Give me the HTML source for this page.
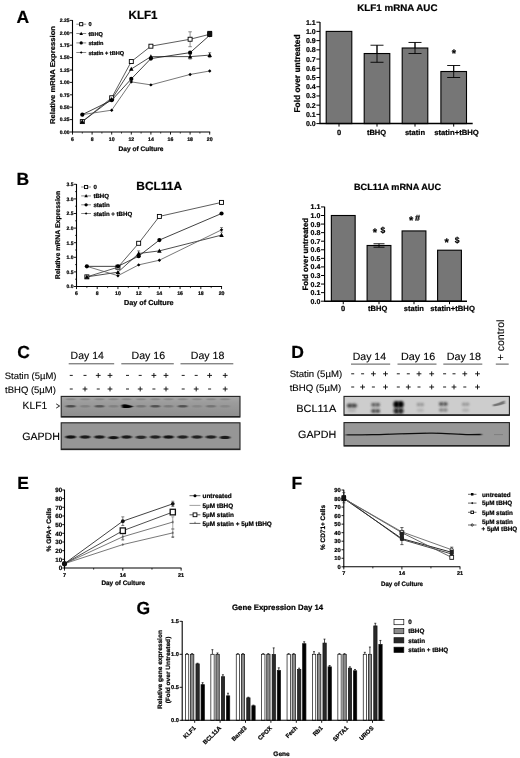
<!DOCTYPE html>
<html><head><meta charset="utf-8"><style>
html,body{margin:0;padding:0;background:#fff;}
body{width:520px;height:758px;overflow:hidden;}
svg{display:block;font-family:"Liberation Sans", sans-serif;will-change:transform;}
text{text-rendering:geometricPrecision;}
</style></head><body>
<svg width="520" height="758" viewBox="0 0 520 758">
<rect x="0" y="0" width="520" height="758" fill="#fff"/>
<text x="16.50" y="22.60" font-size="17.5" font-weight="bold" stroke="#000" stroke-width="0.22" text-anchor="start" fill="#000">A</text>
<text x="128.50" y="18.90" font-size="12" font-weight="bold" stroke="#000" stroke-width="0.22" text-anchor="start" textLength="29" lengthAdjust="spacingAndGlyphs" fill="#000">KLF1</text>
<line x1="72.50" y1="20.10" x2="72.50" y2="132.50" stroke="#000" stroke-width="1.1"/>
<line x1="72.00" y1="132.00" x2="210.20" y2="132.00" stroke="#000" stroke-width="1.1"/>
<line x1="69.90" y1="132.00" x2="72.50" y2="132.00" stroke="#000" stroke-width="0.9"/>
<text x="69.50" y="133.80" font-size="5" font-weight="bold" stroke="#000" stroke-width="0.22" text-anchor="end" fill="#000">0.00</text>
<line x1="69.90" y1="119.60" x2="72.50" y2="119.60" stroke="#000" stroke-width="0.9"/>
<text x="69.50" y="121.40" font-size="5" font-weight="bold" stroke="#000" stroke-width="0.22" text-anchor="end" fill="#000">0.25</text>
<line x1="69.90" y1="107.20" x2="72.50" y2="107.20" stroke="#000" stroke-width="0.9"/>
<text x="69.50" y="109.00" font-size="5" font-weight="bold" stroke="#000" stroke-width="0.22" text-anchor="end" fill="#000">0.50</text>
<line x1="69.90" y1="94.80" x2="72.50" y2="94.80" stroke="#000" stroke-width="0.9"/>
<text x="69.50" y="96.60" font-size="5" font-weight="bold" stroke="#000" stroke-width="0.22" text-anchor="end" fill="#000">0.75</text>
<line x1="69.90" y1="82.40" x2="72.50" y2="82.40" stroke="#000" stroke-width="0.9"/>
<text x="69.50" y="84.20" font-size="5" font-weight="bold" stroke="#000" stroke-width="0.22" text-anchor="end" fill="#000">1.00</text>
<line x1="69.90" y1="70.00" x2="72.50" y2="70.00" stroke="#000" stroke-width="0.9"/>
<text x="69.50" y="71.80" font-size="5" font-weight="bold" stroke="#000" stroke-width="0.22" text-anchor="end" fill="#000">1.25</text>
<line x1="69.90" y1="57.60" x2="72.50" y2="57.60" stroke="#000" stroke-width="0.9"/>
<text x="69.50" y="59.40" font-size="5" font-weight="bold" stroke="#000" stroke-width="0.22" text-anchor="end" fill="#000">1.50</text>
<line x1="69.90" y1="45.20" x2="72.50" y2="45.20" stroke="#000" stroke-width="0.9"/>
<text x="69.50" y="47.00" font-size="5" font-weight="bold" stroke="#000" stroke-width="0.22" text-anchor="end" fill="#000">1.75</text>
<line x1="69.90" y1="32.80" x2="72.50" y2="32.80" stroke="#000" stroke-width="0.9"/>
<text x="69.50" y="34.60" font-size="5" font-weight="bold" stroke="#000" stroke-width="0.22" text-anchor="end" fill="#000">2.00</text>
<line x1="69.90" y1="20.40" x2="72.50" y2="20.40" stroke="#000" stroke-width="0.9"/>
<text x="69.50" y="22.20" font-size="5" font-weight="bold" stroke="#000" stroke-width="0.22" text-anchor="end" fill="#000">2.25</text>
<line x1="72.50" y1="132.00" x2="72.50" y2="134.60" stroke="#000" stroke-width="0.9"/>
<text x="72.50" y="141.30" font-size="5.2" font-weight="bold" stroke="#000" stroke-width="0.22" text-anchor="middle" fill="#000">6</text>
<line x1="92.10" y1="132.00" x2="92.10" y2="134.60" stroke="#000" stroke-width="0.9"/>
<text x="92.10" y="141.30" font-size="5.2" font-weight="bold" stroke="#000" stroke-width="0.22" text-anchor="middle" fill="#000">8</text>
<line x1="111.70" y1="132.00" x2="111.70" y2="134.60" stroke="#000" stroke-width="0.9"/>
<text x="111.70" y="141.30" font-size="5.2" font-weight="bold" stroke="#000" stroke-width="0.22" text-anchor="middle" fill="#000">10</text>
<line x1="131.30" y1="132.00" x2="131.30" y2="134.60" stroke="#000" stroke-width="0.9"/>
<text x="131.30" y="141.30" font-size="5.2" font-weight="bold" stroke="#000" stroke-width="0.22" text-anchor="middle" fill="#000">12</text>
<line x1="150.90" y1="132.00" x2="150.90" y2="134.60" stroke="#000" stroke-width="0.9"/>
<text x="150.90" y="141.30" font-size="5.2" font-weight="bold" stroke="#000" stroke-width="0.22" text-anchor="middle" fill="#000">14</text>
<line x1="170.50" y1="132.00" x2="170.50" y2="134.60" stroke="#000" stroke-width="0.9"/>
<text x="170.50" y="141.30" font-size="5.2" font-weight="bold" stroke="#000" stroke-width="0.22" text-anchor="middle" fill="#000">16</text>
<line x1="190.10" y1="132.00" x2="190.10" y2="134.60" stroke="#000" stroke-width="0.9"/>
<text x="190.10" y="141.30" font-size="5.2" font-weight="bold" stroke="#000" stroke-width="0.22" text-anchor="middle" fill="#000">18</text>
<line x1="209.70" y1="132.00" x2="209.70" y2="134.60" stroke="#000" stroke-width="0.9"/>
<text x="209.70" y="141.30" font-size="5.2" font-weight="bold" stroke="#000" stroke-width="0.22" text-anchor="middle" fill="#000">20</text>
<line x1="82.30" y1="132.00" x2="82.30" y2="133.60" stroke="#000" stroke-width="0.7"/>
<line x1="101.90" y1="132.00" x2="101.90" y2="133.60" stroke="#000" stroke-width="0.7"/>
<line x1="121.50" y1="132.00" x2="121.50" y2="133.60" stroke="#000" stroke-width="0.7"/>
<line x1="141.10" y1="132.00" x2="141.10" y2="133.60" stroke="#000" stroke-width="0.7"/>
<line x1="160.70" y1="132.00" x2="160.70" y2="133.60" stroke="#000" stroke-width="0.7"/>
<line x1="180.30" y1="132.00" x2="180.30" y2="133.60" stroke="#000" stroke-width="0.7"/>
<line x1="199.90" y1="132.00" x2="199.90" y2="133.60" stroke="#000" stroke-width="0.7"/>
<text x="55.30" y="75.00" font-size="7" font-weight="bold" stroke="#000" stroke-width="0.22" text-anchor="middle" textLength="98" lengthAdjust="spacingAndGlyphs" transform="rotate(-90 55.3 75)" fill="#000">Relative mRNA Expression</text>
<text x="141.00" y="150.80" font-size="6.6" font-weight="bold" stroke="#000" stroke-width="0.22" text-anchor="middle" textLength="45" lengthAdjust="spacingAndGlyphs" fill="#000">Day of Culture</text>
<polyline points="82.30,121.58 111.70,97.78 131.30,61.57 150.90,46.19 190.10,39.25 209.70,34.29" fill="none" stroke="#333" stroke-width="0.8"/>
<polyline points="82.30,121.58 111.70,99.26 131.30,69.01 150.90,56.61 190.10,56.61 209.70,55.12" fill="none" stroke="#222" stroke-width="0.8"/>
<polyline points="82.30,114.64 111.70,100.26 131.30,78.93 150.90,58.59 190.10,52.64 209.70,35.28" fill="none" stroke="#111" stroke-width="0.8"/>
<polyline points="82.30,114.64 111.70,110.18 131.30,81.90 150.90,84.88 190.10,74.46 209.70,70.99" fill="none" stroke="#555" stroke-width="0.8"/>
<line x1="190.10" y1="31.81" x2="190.10" y2="46.69" stroke="#444" stroke-width="0.6"/>
<line x1="188.30" y1="31.81" x2="191.90" y2="31.81" stroke="#444" stroke-width="0.6"/>
<line x1="188.30" y1="46.69" x2="191.90" y2="46.69" stroke="#444" stroke-width="0.6"/>
<line x1="190.10" y1="54.13" x2="190.10" y2="59.09" stroke="#444" stroke-width="0.6"/>
<line x1="188.60" y1="54.13" x2="191.60" y2="54.13" stroke="#444" stroke-width="0.6"/>
<line x1="188.60" y1="59.09" x2="191.60" y2="59.09" stroke="#444" stroke-width="0.6"/>
<line x1="209.70" y1="52.64" x2="209.70" y2="57.60" stroke="#444" stroke-width="0.6"/>
<line x1="208.20" y1="52.64" x2="211.20" y2="52.64" stroke="#444" stroke-width="0.6"/>
<line x1="208.20" y1="57.60" x2="211.20" y2="57.60" stroke="#444" stroke-width="0.6"/>
<rect x="80.30" y="119.59" width="3.99" height="3.99" fill="#fff" stroke="#000" stroke-width="0.9"/>
<rect x="109.70" y="95.78" width="3.99" height="3.99" fill="#fff" stroke="#000" stroke-width="0.9"/>
<rect x="129.31" y="59.57" width="3.99" height="3.99" fill="#fff" stroke="#000" stroke-width="0.9"/>
<rect x="148.91" y="44.20" width="3.99" height="3.99" fill="#fff" stroke="#000" stroke-width="0.9"/>
<rect x="188.11" y="37.25" width="3.99" height="3.99" fill="#fff" stroke="#000" stroke-width="0.9"/>
<rect x="207.71" y="32.29" width="3.99" height="3.99" fill="#fff" stroke="#000" stroke-width="0.9"/>
<polygon points="82.30,119.30 84.58,123.41 80.02,123.41" fill="#000"/>
<polygon points="111.70,96.98 113.98,101.09 109.42,101.09" fill="#000"/>
<polygon points="131.30,66.73 133.58,70.83 129.02,70.83" fill="#000"/>
<polygon points="150.90,54.33 153.18,58.43 148.62,58.43" fill="#000"/>
<polygon points="190.10,54.33 192.38,58.43 187.82,58.43" fill="#000"/>
<polygon points="209.70,52.84 211.98,56.94 207.42,56.94" fill="#000"/>
<circle cx="82.30" cy="114.64" r="2.09" fill="#000"/>
<circle cx="111.70" cy="100.26" r="2.09" fill="#000"/>
<circle cx="131.30" cy="78.93" r="2.09" fill="#000"/>
<circle cx="150.90" cy="58.59" r="2.09" fill="#000"/>
<circle cx="190.10" cy="52.64" r="2.09" fill="#000"/>
<circle cx="209.70" cy="35.28" r="2.09" fill="#000"/>
<polygon points="82.30,112.93 84.01,114.64 82.30,116.35 80.59,114.64" fill="#000"/>
<polygon points="111.70,108.47 113.41,110.18 111.70,111.89 109.99,110.18" fill="#000"/>
<polygon points="131.30,80.19 133.01,81.90 131.30,83.61 129.59,81.90" fill="#000"/>
<polygon points="150.90,83.17 152.61,84.88 150.90,86.59 149.19,84.88" fill="#000"/>
<polygon points="190.10,72.75 191.81,74.46 190.10,76.17 188.39,74.46" fill="#000"/>
<polygon points="209.70,69.28 211.41,70.99 209.70,72.70 207.99,70.99" fill="#000"/>
<rect x="207.30" y="30.90" width="4.80" height="5.60" fill="#111"/>
<line x1="76.30" y1="24.20" x2="86.20" y2="24.20" stroke="#555" stroke-width="0.7"/>
<rect x="79.62" y="22.62" width="3.15" height="3.15" fill="#fff" stroke="#000" stroke-width="0.9"/>
<text x="88.50" y="26.20" font-size="5.6" font-weight="bold" stroke="#000" stroke-width="0.22" text-anchor="start" fill="#000">0</text>
<line x1="76.30" y1="33.50" x2="86.20" y2="33.50" stroke="#555" stroke-width="0.7"/>
<polygon points="81.20,31.70 83.00,34.94 79.40,34.94" fill="#000"/>
<text x="88.50" y="35.50" font-size="5.6" font-weight="bold" stroke="#000" stroke-width="0.22" text-anchor="start" fill="#000">tBHQ</text>
<line x1="76.30" y1="42.90" x2="86.20" y2="42.90" stroke="#555" stroke-width="0.7"/>
<circle cx="81.20" cy="42.90" r="1.65" fill="#000"/>
<text x="88.50" y="44.90" font-size="5.6" font-weight="bold" stroke="#000" stroke-width="0.22" text-anchor="start" fill="#000">statin</text>
<line x1="76.30" y1="52.50" x2="86.20" y2="52.50" stroke="#555" stroke-width="0.7"/>
<polygon points="81.20,51.15 82.55,52.50 81.20,53.85 79.85,52.50" fill="#000"/>
<text x="88.50" y="54.50" font-size="5.6" font-weight="bold" stroke="#000" stroke-width="0.22" text-anchor="start" fill="#000">statin + tBHQ</text>
<text x="357.30" y="10.60" font-size="9.5" font-weight="bold" stroke="#000" stroke-width="0.22" text-anchor="start" textLength="80.2" lengthAdjust="spacingAndGlyphs" fill="#000">KLF1 mRNA AUC</text>
<line x1="320.00" y1="21.88" x2="320.00" y2="123.60" stroke="#000" stroke-width="1.2"/>
<line x1="316.40" y1="123.60" x2="320.00" y2="123.60" stroke="#000" stroke-width="1.0"/>
<text x="315.70" y="126.10" font-size="7" font-weight="bold" stroke="#000" stroke-width="0.22" text-anchor="end" fill="#000">0.0</text>
<line x1="316.40" y1="114.38" x2="320.00" y2="114.38" stroke="#000" stroke-width="1.0"/>
<text x="315.70" y="116.88" font-size="7" font-weight="bold" stroke="#000" stroke-width="0.22" text-anchor="end" fill="#000">0.1</text>
<line x1="316.40" y1="105.16" x2="320.00" y2="105.16" stroke="#000" stroke-width="1.0"/>
<text x="315.70" y="107.66" font-size="7" font-weight="bold" stroke="#000" stroke-width="0.22" text-anchor="end" fill="#000">0.2</text>
<line x1="316.40" y1="95.94" x2="320.00" y2="95.94" stroke="#000" stroke-width="1.0"/>
<text x="315.70" y="98.44" font-size="7" font-weight="bold" stroke="#000" stroke-width="0.22" text-anchor="end" fill="#000">0.3</text>
<line x1="316.40" y1="86.72" x2="320.00" y2="86.72" stroke="#000" stroke-width="1.0"/>
<text x="315.70" y="89.22" font-size="7" font-weight="bold" stroke="#000" stroke-width="0.22" text-anchor="end" fill="#000">0.4</text>
<line x1="316.40" y1="77.50" x2="320.00" y2="77.50" stroke="#000" stroke-width="1.0"/>
<text x="315.70" y="80.00" font-size="7" font-weight="bold" stroke="#000" stroke-width="0.22" text-anchor="end" fill="#000">0.5</text>
<line x1="316.40" y1="68.28" x2="320.00" y2="68.28" stroke="#000" stroke-width="1.0"/>
<text x="315.70" y="70.78" font-size="7" font-weight="bold" stroke="#000" stroke-width="0.22" text-anchor="end" fill="#000">0.6</text>
<line x1="316.40" y1="59.06" x2="320.00" y2="59.06" stroke="#000" stroke-width="1.0"/>
<text x="315.70" y="61.56" font-size="7" font-weight="bold" stroke="#000" stroke-width="0.22" text-anchor="end" fill="#000">0.7</text>
<line x1="316.40" y1="49.84" x2="320.00" y2="49.84" stroke="#000" stroke-width="1.0"/>
<text x="315.70" y="52.34" font-size="7" font-weight="bold" stroke="#000" stroke-width="0.22" text-anchor="end" fill="#000">0.8</text>
<line x1="316.40" y1="40.62" x2="320.00" y2="40.62" stroke="#000" stroke-width="1.0"/>
<text x="315.70" y="43.12" font-size="7" font-weight="bold" stroke="#000" stroke-width="0.22" text-anchor="end" fill="#000">0.9</text>
<line x1="316.40" y1="31.40" x2="320.00" y2="31.40" stroke="#000" stroke-width="1.0"/>
<text x="315.70" y="33.90" font-size="7" font-weight="bold" stroke="#000" stroke-width="0.22" text-anchor="end" fill="#000">1.0</text>
<line x1="316.40" y1="22.18" x2="320.00" y2="22.18" stroke="#000" stroke-width="1.0"/>
<text x="315.70" y="24.68" font-size="7" font-weight="bold" stroke="#000" stroke-width="0.22" text-anchor="end" fill="#000">1.1</text>
<text x="299.50" y="73.50" font-size="8.4" font-weight="bold" stroke="#000" stroke-width="0.22" text-anchor="middle" textLength="78" lengthAdjust="spacingAndGlyphs" transform="rotate(-90 299.5 73.5)" fill="#000">Fold over untreated</text>
<rect x="326.20" y="31.40" width="25.60" height="92.20" fill="#767676" stroke="#000" stroke-width="1.1"/>
<line x1="377.00" y1="45.23" x2="377.00" y2="62.29" stroke="#000" stroke-width="0.9"/>
<line x1="370.50" y1="45.23" x2="383.50" y2="45.23" stroke="#000" stroke-width="0.9"/>
<line x1="370.50" y1="62.29" x2="383.50" y2="62.29" stroke="#000" stroke-width="0.9"/>
<rect x="364.20" y="53.53" width="25.60" height="70.07" fill="#767676" stroke="#000" stroke-width="1.1"/>
<line x1="377.00" y1="45.23" x2="377.00" y2="53.53" stroke="#000" stroke-width="0.9"/>
<line x1="377.00" y1="53.53" x2="377.00" y2="62.29" stroke="#000" stroke-width="0.9"/>
<line x1="370.50" y1="62.29" x2="383.50" y2="62.29" stroke="#000" stroke-width="0.9"/>
<line x1="415.00" y1="42.46" x2="415.00" y2="53.53" stroke="#000" stroke-width="0.9"/>
<line x1="408.50" y1="42.46" x2="421.50" y2="42.46" stroke="#000" stroke-width="0.9"/>
<line x1="408.50" y1="53.53" x2="421.50" y2="53.53" stroke="#000" stroke-width="0.9"/>
<rect x="402.20" y="48.00" width="25.60" height="75.60" fill="#767676" stroke="#000" stroke-width="1.1"/>
<line x1="415.00" y1="42.46" x2="415.00" y2="48.00" stroke="#000" stroke-width="0.9"/>
<line x1="415.00" y1="48.00" x2="415.00" y2="53.53" stroke="#000" stroke-width="0.9"/>
<line x1="408.50" y1="53.53" x2="421.50" y2="53.53" stroke="#000" stroke-width="0.9"/>
<line x1="453.70" y1="65.51" x2="453.70" y2="77.50" stroke="#000" stroke-width="0.9"/>
<line x1="447.20" y1="65.51" x2="460.20" y2="65.51" stroke="#000" stroke-width="0.9"/>
<line x1="447.20" y1="77.50" x2="460.20" y2="77.50" stroke="#000" stroke-width="0.9"/>
<rect x="440.90" y="71.51" width="25.60" height="52.09" fill="#767676" stroke="#000" stroke-width="1.1"/>
<line x1="453.70" y1="65.51" x2="453.70" y2="71.51" stroke="#000" stroke-width="0.9"/>
<line x1="453.70" y1="71.51" x2="453.70" y2="77.50" stroke="#000" stroke-width="0.9"/>
<line x1="447.20" y1="77.50" x2="460.20" y2="77.50" stroke="#000" stroke-width="0.9"/>
<line x1="319.50" y1="123.60" x2="472.70" y2="123.60" stroke="#000" stroke-width="1.5"/>
<line x1="339.00" y1="123.60" x2="339.00" y2="126.60" stroke="#000" stroke-width="1.0"/>
<line x1="377.00" y1="123.60" x2="377.00" y2="126.60" stroke="#000" stroke-width="1.0"/>
<line x1="415.00" y1="123.60" x2="415.00" y2="126.60" stroke="#000" stroke-width="1.0"/>
<line x1="453.70" y1="123.60" x2="453.70" y2="126.60" stroke="#000" stroke-width="1.0"/>
<text x="339.00" y="134.50" font-size="7.5" font-weight="bold" stroke="#000" stroke-width="0.22" text-anchor="middle" fill="#000">0</text>
<text x="376.50" y="134.50" font-size="7.5" font-weight="bold" stroke="#000" stroke-width="0.22" text-anchor="middle" fill="#000">tBHQ</text>
<text x="415.00" y="134.50" font-size="7.5" font-weight="bold" stroke="#000" stroke-width="0.22" text-anchor="middle" textLength="20.2" lengthAdjust="spacingAndGlyphs" fill="#000">statin</text>
<text x="456.50" y="134.50" font-size="7.5" font-weight="bold" stroke="#000" stroke-width="0.22" text-anchor="middle" textLength="44.6" lengthAdjust="spacingAndGlyphs" fill="#000">statin+tBHQ</text>
<text x="453.80" y="57.36" font-size="11" font-weight="bold" stroke="#000" stroke-width="0.22" text-anchor="middle" fill="#000">*</text>
<text x="16.50" y="184.60" font-size="17.5" font-weight="bold" stroke="#000" stroke-width="0.22" text-anchor="start" fill="#000">B</text>
<text x="136.30" y="190.20" font-size="12" font-weight="bold" stroke="#000" stroke-width="0.22" text-anchor="start" textLength="45.8" lengthAdjust="spacingAndGlyphs" fill="#000">BCL11A</text>
<line x1="76.50" y1="184.00" x2="76.50" y2="287.00" stroke="#000" stroke-width="1.1"/>
<line x1="76.00" y1="286.50" x2="222.04" y2="286.50" stroke="#000" stroke-width="1.1"/>
<line x1="73.90" y1="286.50" x2="76.50" y2="286.50" stroke="#000" stroke-width="0.9"/>
<text x="73.50" y="288.30" font-size="5" font-weight="bold" stroke="#000" stroke-width="0.22" text-anchor="end" fill="#000">0.0</text>
<line x1="73.90" y1="271.90" x2="76.50" y2="271.90" stroke="#000" stroke-width="0.9"/>
<text x="73.50" y="273.70" font-size="5" font-weight="bold" stroke="#000" stroke-width="0.22" text-anchor="end" fill="#000">0.5</text>
<line x1="73.90" y1="257.30" x2="76.50" y2="257.30" stroke="#000" stroke-width="0.9"/>
<text x="73.50" y="259.10" font-size="5" font-weight="bold" stroke="#000" stroke-width="0.22" text-anchor="end" fill="#000">1.0</text>
<line x1="73.90" y1="242.70" x2="76.50" y2="242.70" stroke="#000" stroke-width="0.9"/>
<text x="73.50" y="244.50" font-size="5" font-weight="bold" stroke="#000" stroke-width="0.22" text-anchor="end" fill="#000">1.5</text>
<line x1="73.90" y1="228.10" x2="76.50" y2="228.10" stroke="#000" stroke-width="0.9"/>
<text x="73.50" y="229.90" font-size="5" font-weight="bold" stroke="#000" stroke-width="0.22" text-anchor="end" fill="#000">2.0</text>
<line x1="73.90" y1="213.50" x2="76.50" y2="213.50" stroke="#000" stroke-width="0.9"/>
<text x="73.50" y="215.30" font-size="5" font-weight="bold" stroke="#000" stroke-width="0.22" text-anchor="end" fill="#000">2.5</text>
<line x1="73.90" y1="198.90" x2="76.50" y2="198.90" stroke="#000" stroke-width="0.9"/>
<text x="73.50" y="200.70" font-size="5" font-weight="bold" stroke="#000" stroke-width="0.22" text-anchor="end" fill="#000">3.0</text>
<line x1="73.90" y1="184.30" x2="76.50" y2="184.30" stroke="#000" stroke-width="0.9"/>
<text x="73.50" y="186.10" font-size="5" font-weight="bold" stroke="#000" stroke-width="0.22" text-anchor="end" fill="#000">3.5</text>
<line x1="75.00" y1="279.20" x2="76.50" y2="279.20" stroke="#000" stroke-width="0.7"/>
<line x1="75.00" y1="264.60" x2="76.50" y2="264.60" stroke="#000" stroke-width="0.7"/>
<line x1="75.00" y1="250.00" x2="76.50" y2="250.00" stroke="#000" stroke-width="0.7"/>
<line x1="75.00" y1="235.40" x2="76.50" y2="235.40" stroke="#000" stroke-width="0.7"/>
<line x1="75.00" y1="220.80" x2="76.50" y2="220.80" stroke="#000" stroke-width="0.7"/>
<line x1="75.00" y1="206.20" x2="76.50" y2="206.20" stroke="#000" stroke-width="0.7"/>
<line x1="75.00" y1="191.60" x2="76.50" y2="191.60" stroke="#000" stroke-width="0.7"/>
<line x1="76.50" y1="286.50" x2="76.50" y2="289.10" stroke="#000" stroke-width="0.9"/>
<text x="76.50" y="294.50" font-size="5.2" font-weight="bold" stroke="#000" stroke-width="0.22" text-anchor="middle" fill="#000">6</text>
<line x1="97.22" y1="286.50" x2="97.22" y2="289.10" stroke="#000" stroke-width="0.9"/>
<text x="97.22" y="294.50" font-size="5.2" font-weight="bold" stroke="#000" stroke-width="0.22" text-anchor="middle" fill="#000">8</text>
<line x1="117.94" y1="286.50" x2="117.94" y2="289.10" stroke="#000" stroke-width="0.9"/>
<text x="117.94" y="294.50" font-size="5.2" font-weight="bold" stroke="#000" stroke-width="0.22" text-anchor="middle" fill="#000">10</text>
<line x1="138.66" y1="286.50" x2="138.66" y2="289.10" stroke="#000" stroke-width="0.9"/>
<text x="138.66" y="294.50" font-size="5.2" font-weight="bold" stroke="#000" stroke-width="0.22" text-anchor="middle" fill="#000">12</text>
<line x1="159.38" y1="286.50" x2="159.38" y2="289.10" stroke="#000" stroke-width="0.9"/>
<text x="159.38" y="294.50" font-size="5.2" font-weight="bold" stroke="#000" stroke-width="0.22" text-anchor="middle" fill="#000">14</text>
<line x1="180.10" y1="286.50" x2="180.10" y2="289.10" stroke="#000" stroke-width="0.9"/>
<text x="180.10" y="294.50" font-size="5.2" font-weight="bold" stroke="#000" stroke-width="0.22" text-anchor="middle" fill="#000">16</text>
<line x1="200.82" y1="286.50" x2="200.82" y2="289.10" stroke="#000" stroke-width="0.9"/>
<text x="200.82" y="294.50" font-size="5.2" font-weight="bold" stroke="#000" stroke-width="0.22" text-anchor="middle" fill="#000">18</text>
<line x1="221.54" y1="286.50" x2="221.54" y2="289.10" stroke="#000" stroke-width="0.9"/>
<text x="221.54" y="294.50" font-size="5.2" font-weight="bold" stroke="#000" stroke-width="0.22" text-anchor="middle" fill="#000">20</text>
<line x1="86.86" y1="286.50" x2="86.86" y2="288.10" stroke="#000" stroke-width="0.7"/>
<line x1="107.58" y1="286.50" x2="107.58" y2="288.10" stroke="#000" stroke-width="0.7"/>
<line x1="128.30" y1="286.50" x2="128.30" y2="288.10" stroke="#000" stroke-width="0.7"/>
<line x1="149.02" y1="286.50" x2="149.02" y2="288.10" stroke="#000" stroke-width="0.7"/>
<line x1="169.74" y1="286.50" x2="169.74" y2="288.10" stroke="#000" stroke-width="0.7"/>
<line x1="190.46" y1="286.50" x2="190.46" y2="288.10" stroke="#000" stroke-width="0.7"/>
<line x1="211.18" y1="286.50" x2="211.18" y2="288.10" stroke="#000" stroke-width="0.7"/>
<text x="59.60" y="235.00" font-size="6.8" font-weight="bold" stroke="#000" stroke-width="0.22" text-anchor="middle" textLength="88.6" lengthAdjust="spacingAndGlyphs" transform="rotate(-90 59.6 235)" fill="#000">Relative mRNA Expression</text>
<text x="148.80" y="305.40" font-size="7.2" font-weight="bold" stroke="#000" stroke-width="0.22" text-anchor="middle" textLength="49.5" lengthAdjust="spacingAndGlyphs" fill="#000">Day of Culture</text>
<polyline points="86.86,276.86 117.94,267.23 138.66,243.28 159.38,216.42 221.54,202.40" fill="none" stroke="#333" stroke-width="0.8"/>
<polyline points="86.86,276.86 117.94,272.19 138.66,253.50 159.38,250.88 221.54,235.11" fill="none" stroke="#222" stroke-width="0.8"/>
<polyline points="86.86,266.35 117.94,266.35 138.66,256.13 159.38,240.07 221.54,213.50" fill="none" stroke="#111" stroke-width="0.8"/>
<polyline points="86.86,266.35 117.94,275.70 138.66,264.89 159.38,260.22 221.54,229.85" fill="none" stroke="#555" stroke-width="0.8"/>
<line x1="138.66" y1="250.88" x2="138.66" y2="256.13" stroke="#444" stroke-width="0.6"/>
<line x1="137.16" y1="250.88" x2="140.16" y2="250.88" stroke="#444" stroke-width="0.6"/>
<line x1="137.16" y1="256.13" x2="140.16" y2="256.13" stroke="#444" stroke-width="0.6"/>
<line x1="221.54" y1="227.52" x2="221.54" y2="232.19" stroke="#444" stroke-width="0.6"/>
<line x1="220.04" y1="227.52" x2="223.04" y2="227.52" stroke="#444" stroke-width="0.6"/>
<line x1="220.04" y1="232.19" x2="223.04" y2="232.19" stroke="#444" stroke-width="0.6"/>
<rect x="84.86" y="274.87" width="3.99" height="3.99" fill="#fff" stroke="#000" stroke-width="0.9"/>
<rect x="115.94" y="265.23" width="3.99" height="3.99" fill="#fff" stroke="#000" stroke-width="0.9"/>
<rect x="136.66" y="241.29" width="3.99" height="3.99" fill="#fff" stroke="#000" stroke-width="0.9"/>
<rect x="157.38" y="214.43" width="3.99" height="3.99" fill="#fff" stroke="#000" stroke-width="0.9"/>
<rect x="219.54" y="200.41" width="3.99" height="3.99" fill="#fff" stroke="#000" stroke-width="0.9"/>
<polygon points="86.86,274.58 89.14,278.69 84.58,278.69" fill="#000"/>
<polygon points="117.94,269.91 120.22,274.02 115.66,274.02" fill="#000"/>
<polygon points="138.66,251.22 140.94,255.33 136.38,255.33" fill="#000"/>
<polygon points="159.38,248.60 161.66,252.70 157.10,252.70" fill="#000"/>
<polygon points="221.54,232.83 223.82,236.93 219.26,236.93" fill="#000"/>
<circle cx="86.86" cy="266.35" r="2.09" fill="#000"/>
<circle cx="117.94" cy="266.35" r="2.09" fill="#000"/>
<circle cx="138.66" cy="256.13" r="2.09" fill="#000"/>
<circle cx="159.38" cy="240.07" r="2.09" fill="#000"/>
<circle cx="221.54" cy="213.50" r="2.09" fill="#000"/>
<polygon points="86.86,264.64 88.57,266.35 86.86,268.06 85.15,266.35" fill="#000"/>
<polygon points="117.94,273.99 119.65,275.70 117.94,277.41 116.23,275.70" fill="#000"/>
<polygon points="138.66,263.18 140.37,264.89 138.66,266.60 136.95,264.89" fill="#000"/>
<polygon points="159.38,258.51 161.09,260.22 159.38,261.93 157.67,260.22" fill="#000"/>
<polygon points="221.54,228.14 223.25,229.85 221.54,231.56 219.83,229.85" fill="#000"/>
<line x1="81.20" y1="187.00" x2="91.00" y2="187.00" stroke="#555" stroke-width="0.7"/>
<rect x="84.52" y="185.43" width="3.15" height="3.15" fill="#fff" stroke="#000" stroke-width="0.9"/>
<text x="93.40" y="189.20" font-size="6.1" font-weight="bold" stroke="#000" stroke-width="0.22" text-anchor="start" fill="#000">0</text>
<line x1="81.20" y1="195.90" x2="91.00" y2="195.90" stroke="#555" stroke-width="0.7"/>
<polygon points="86.10,194.10 87.90,197.34 84.30,197.34" fill="#000"/>
<text x="93.40" y="198.10" font-size="6.1" font-weight="bold" stroke="#000" stroke-width="0.22" text-anchor="start" fill="#000">tBHQ</text>
<line x1="81.20" y1="204.80" x2="91.00" y2="204.80" stroke="#555" stroke-width="0.7"/>
<circle cx="86.10" cy="204.80" r="1.65" fill="#000"/>
<text x="93.40" y="207.00" font-size="6.1" font-weight="bold" stroke="#000" stroke-width="0.22" text-anchor="start" fill="#000">statin</text>
<line x1="81.20" y1="213.50" x2="91.00" y2="213.50" stroke="#555" stroke-width="0.7"/>
<polygon points="86.10,212.15 87.45,213.50 86.10,214.85 84.75,213.50" fill="#000"/>
<text x="93.40" y="215.70" font-size="6.1" font-weight="bold" stroke="#000" stroke-width="0.22" text-anchor="start" fill="#000">statin + tBHQ</text>
<text x="354.00" y="190.00" font-size="9" font-weight="bold" stroke="#000" stroke-width="0.22" text-anchor="start" textLength="87" lengthAdjust="spacingAndGlyphs" fill="#000">BCL11A mRNA AUC</text>
<line x1="324.60" y1="206.63" x2="324.60" y2="301.20" stroke="#000" stroke-width="1.2"/>
<line x1="321.00" y1="301.20" x2="324.60" y2="301.20" stroke="#000" stroke-width="1.0"/>
<text x="320.30" y="303.70" font-size="7" font-weight="bold" stroke="#000" stroke-width="0.22" text-anchor="end" fill="#000">0.0</text>
<line x1="321.00" y1="292.63" x2="324.60" y2="292.63" stroke="#000" stroke-width="1.0"/>
<text x="320.30" y="295.13" font-size="7" font-weight="bold" stroke="#000" stroke-width="0.22" text-anchor="end" fill="#000">0.1</text>
<line x1="321.00" y1="284.06" x2="324.60" y2="284.06" stroke="#000" stroke-width="1.0"/>
<text x="320.30" y="286.56" font-size="7" font-weight="bold" stroke="#000" stroke-width="0.22" text-anchor="end" fill="#000">0.2</text>
<line x1="321.00" y1="275.49" x2="324.60" y2="275.49" stroke="#000" stroke-width="1.0"/>
<text x="320.30" y="277.99" font-size="7" font-weight="bold" stroke="#000" stroke-width="0.22" text-anchor="end" fill="#000">0.3</text>
<line x1="321.00" y1="266.92" x2="324.60" y2="266.92" stroke="#000" stroke-width="1.0"/>
<text x="320.30" y="269.42" font-size="7" font-weight="bold" stroke="#000" stroke-width="0.22" text-anchor="end" fill="#000">0.4</text>
<line x1="321.00" y1="258.35" x2="324.60" y2="258.35" stroke="#000" stroke-width="1.0"/>
<text x="320.30" y="260.85" font-size="7" font-weight="bold" stroke="#000" stroke-width="0.22" text-anchor="end" fill="#000">0.5</text>
<line x1="321.00" y1="249.78" x2="324.60" y2="249.78" stroke="#000" stroke-width="1.0"/>
<text x="320.30" y="252.28" font-size="7" font-weight="bold" stroke="#000" stroke-width="0.22" text-anchor="end" fill="#000">0.6</text>
<line x1="321.00" y1="241.21" x2="324.60" y2="241.21" stroke="#000" stroke-width="1.0"/>
<text x="320.30" y="243.71" font-size="7" font-weight="bold" stroke="#000" stroke-width="0.22" text-anchor="end" fill="#000">0.7</text>
<line x1="321.00" y1="232.64" x2="324.60" y2="232.64" stroke="#000" stroke-width="1.0"/>
<text x="320.30" y="235.14" font-size="7" font-weight="bold" stroke="#000" stroke-width="0.22" text-anchor="end" fill="#000">0.8</text>
<line x1="321.00" y1="224.07" x2="324.60" y2="224.07" stroke="#000" stroke-width="1.0"/>
<text x="320.30" y="226.57" font-size="7" font-weight="bold" stroke="#000" stroke-width="0.22" text-anchor="end" fill="#000">0.9</text>
<line x1="321.00" y1="215.50" x2="324.60" y2="215.50" stroke="#000" stroke-width="1.0"/>
<text x="320.30" y="218.00" font-size="7" font-weight="bold" stroke="#000" stroke-width="0.22" text-anchor="end" fill="#000">1.0</text>
<line x1="321.00" y1="206.93" x2="324.60" y2="206.93" stroke="#000" stroke-width="1.0"/>
<text x="320.30" y="209.43" font-size="7" font-weight="bold" stroke="#000" stroke-width="0.22" text-anchor="end" fill="#000">1.1</text>
<text x="308.10" y="254.30" font-size="7.8" font-weight="bold" stroke="#000" stroke-width="0.22" text-anchor="middle" textLength="72.5" lengthAdjust="spacingAndGlyphs" transform="rotate(-90 308.1 254.3)" fill="#000">Fold over untreated</text>
<rect x="331.35" y="215.50" width="23.80" height="85.70" fill="#767676" stroke="#000" stroke-width="1.1"/>
<rect x="367.10" y="245.49" width="23.80" height="55.71" fill="#767676" stroke="#000" stroke-width="1.1"/>
<line x1="379.00" y1="243.78" x2="379.00" y2="247.21" stroke="#000" stroke-width="0.9"/>
<line x1="373.50" y1="243.78" x2="384.50" y2="243.78" stroke="#000" stroke-width="0.9"/>
<line x1="373.50" y1="247.21" x2="384.50" y2="247.21" stroke="#000" stroke-width="0.9"/>
<rect x="402.10" y="230.93" width="23.80" height="70.27" fill="#767676" stroke="#000" stroke-width="1.1"/>
<rect x="437.60" y="250.21" width="23.80" height="50.99" fill="#767676" stroke="#000" stroke-width="1.1"/>
<line x1="324.10" y1="301.20" x2="467.00" y2="301.20" stroke="#000" stroke-width="1.5"/>
<line x1="343.25" y1="301.20" x2="343.25" y2="304.20" stroke="#000" stroke-width="1.0"/>
<line x1="379.00" y1="301.20" x2="379.00" y2="304.20" stroke="#000" stroke-width="1.0"/>
<line x1="414.00" y1="301.20" x2="414.00" y2="304.20" stroke="#000" stroke-width="1.0"/>
<line x1="449.50" y1="301.20" x2="449.50" y2="304.20" stroke="#000" stroke-width="1.0"/>
<text x="343.00" y="311.00" font-size="7.5" font-weight="bold" stroke="#000" stroke-width="0.22" text-anchor="middle" fill="#000">0</text>
<text x="377.70" y="311.00" font-size="7.5" font-weight="bold" stroke="#000" stroke-width="0.22" text-anchor="middle" fill="#000">tBHQ</text>
<text x="413.90" y="311.00" font-size="7.5" font-weight="bold" stroke="#000" stroke-width="0.22" text-anchor="middle" textLength="20.2" lengthAdjust="spacingAndGlyphs" fill="#000">statin</text>
<text x="452.60" y="311.00" font-size="7.5" font-weight="bold" stroke="#000" stroke-width="0.22" text-anchor="middle" textLength="44.6" lengthAdjust="spacingAndGlyphs" fill="#000">statin+tBHQ</text>
<text x="375.00" y="235.56" font-size="11" font-weight="bold" stroke="#000" stroke-width="0.22" text-anchor="middle" fill="#000">*</text>
<text x="382.90" y="232.66" font-size="8.5" font-weight="bold" stroke="#000" stroke-width="0.22" text-anchor="middle" fill="#000">$</text>
<text x="411.20" y="223.96" font-size="11" font-weight="bold" stroke="#000" stroke-width="0.22" text-anchor="middle" fill="#000">*</text>
<text x="417.50" y="220.84" font-size="9" font-weight="bold" stroke="#000" stroke-width="0.22" text-anchor="middle" fill="#000">#</text>
<text x="446.70" y="245.96" font-size="11" font-weight="bold" stroke="#000" stroke-width="0.22" text-anchor="middle" fill="#000">*</text>
<text x="457.00" y="242.66" font-size="8.5" font-weight="bold" stroke="#000" stroke-width="0.22" text-anchor="middle" fill="#000">$</text>
<text x="17.20" y="358.20" font-size="17.5" font-weight="bold" stroke="#000" stroke-width="0.22" text-anchor="start" fill="#000">C</text>
<text x="70.60" y="358.80" font-size="10.5" stroke="#000" stroke-width="0.12" text-anchor="start" textLength="33.2" lengthAdjust="spacingAndGlyphs" fill="#000">Day 14</text>
<text x="131.50" y="358.80" font-size="10.5" stroke="#000" stroke-width="0.12" text-anchor="start" textLength="33.69999999999999" lengthAdjust="spacingAndGlyphs" fill="#000">Day 16</text>
<text x="190.80" y="358.80" font-size="10.5" stroke="#000" stroke-width="0.12" text-anchor="start" textLength="33.599999999999994" lengthAdjust="spacingAndGlyphs" fill="#000">Day 18</text>
<line x1="68.70" y1="363.80" x2="114.20" y2="363.80" stroke="#555" stroke-width="1.0"/>
<line x1="121.30" y1="363.80" x2="173.80" y2="363.80" stroke="#555" stroke-width="1.0"/>
<line x1="180.50" y1="363.80" x2="233.30" y2="363.80" stroke="#555" stroke-width="1.0"/>
<text x="4.70" y="378.70" font-size="9.4" stroke="#000" stroke-width="0.12" text-anchor="start" textLength="51.8" lengthAdjust="spacingAndGlyphs" fill="#000">Statin (5µM)</text>
<text x="5.10" y="392.60" font-size="9.4" stroke="#000" stroke-width="0.12" text-anchor="start" textLength="50.8" lengthAdjust="spacingAndGlyphs" fill="#000">tBHQ (5µM)</text>
<line x1="69.75" y1="375.40" x2="72.75" y2="375.40" stroke="#111" stroke-width="0.95"/>
<line x1="69.75" y1="389.00" x2="72.75" y2="389.00" stroke="#111" stroke-width="0.95"/>
<line x1="83.50" y1="375.40" x2="86.50" y2="375.40" stroke="#111" stroke-width="0.95"/>
<line x1="82.60" y1="389.00" x2="87.40" y2="389.00" stroke="#111" stroke-width="0.95"/>
<line x1="85.00" y1="386.60" x2="85.00" y2="391.40" stroke="#111" stroke-width="0.95"/>
<line x1="95.85" y1="375.40" x2="100.65" y2="375.40" stroke="#111" stroke-width="0.95"/>
<line x1="98.25" y1="373.00" x2="98.25" y2="377.80" stroke="#111" stroke-width="0.95"/>
<line x1="96.75" y1="389.00" x2="99.75" y2="389.00" stroke="#111" stroke-width="0.95"/>
<line x1="107.60" y1="375.40" x2="112.40" y2="375.40" stroke="#111" stroke-width="0.95"/>
<line x1="110.00" y1="373.00" x2="110.00" y2="377.80" stroke="#111" stroke-width="0.95"/>
<line x1="107.60" y1="389.00" x2="112.40" y2="389.00" stroke="#111" stroke-width="0.95"/>
<line x1="110.00" y1="386.60" x2="110.00" y2="391.40" stroke="#111" stroke-width="0.95"/>
<line x1="126.00" y1="375.40" x2="129.00" y2="375.40" stroke="#111" stroke-width="0.95"/>
<line x1="126.00" y1="389.00" x2="129.00" y2="389.00" stroke="#111" stroke-width="0.95"/>
<line x1="138.70" y1="375.40" x2="141.70" y2="375.40" stroke="#111" stroke-width="0.95"/>
<line x1="137.80" y1="389.00" x2="142.60" y2="389.00" stroke="#111" stroke-width="0.95"/>
<line x1="140.20" y1="386.60" x2="140.20" y2="391.40" stroke="#111" stroke-width="0.95"/>
<line x1="151.50" y1="375.40" x2="156.30" y2="375.40" stroke="#111" stroke-width="0.95"/>
<line x1="153.90" y1="373.00" x2="153.90" y2="377.80" stroke="#111" stroke-width="0.95"/>
<line x1="152.40" y1="389.00" x2="155.40" y2="389.00" stroke="#111" stroke-width="0.95"/>
<line x1="163.60" y1="375.40" x2="168.40" y2="375.40" stroke="#111" stroke-width="0.95"/>
<line x1="166.00" y1="373.00" x2="166.00" y2="377.80" stroke="#111" stroke-width="0.95"/>
<line x1="163.60" y1="389.00" x2="168.40" y2="389.00" stroke="#111" stroke-width="0.95"/>
<line x1="166.00" y1="386.60" x2="166.00" y2="391.40" stroke="#111" stroke-width="0.95"/>
<line x1="181.70" y1="375.40" x2="184.70" y2="375.40" stroke="#111" stroke-width="0.95"/>
<line x1="181.70" y1="389.00" x2="184.70" y2="389.00" stroke="#111" stroke-width="0.95"/>
<line x1="194.70" y1="375.40" x2="197.70" y2="375.40" stroke="#111" stroke-width="0.95"/>
<line x1="193.80" y1="389.00" x2="198.60" y2="389.00" stroke="#111" stroke-width="0.95"/>
<line x1="196.20" y1="386.60" x2="196.20" y2="391.40" stroke="#111" stroke-width="0.95"/>
<line x1="207.20" y1="375.40" x2="212.00" y2="375.40" stroke="#111" stroke-width="0.95"/>
<line x1="209.60" y1="373.00" x2="209.60" y2="377.80" stroke="#111" stroke-width="0.95"/>
<line x1="208.10" y1="389.00" x2="211.10" y2="389.00" stroke="#111" stroke-width="0.95"/>
<line x1="222.80" y1="375.40" x2="227.60" y2="375.40" stroke="#111" stroke-width="0.95"/>
<line x1="225.20" y1="373.00" x2="225.20" y2="377.80" stroke="#111" stroke-width="0.95"/>
<line x1="222.80" y1="389.00" x2="227.60" y2="389.00" stroke="#111" stroke-width="0.95"/>
<line x1="225.20" y1="386.60" x2="225.20" y2="391.40" stroke="#111" stroke-width="0.95"/>
<text x="22.60" y="409.40" font-size="10.5" stroke="#000" stroke-width="0.12" text-anchor="start" textLength="24.5" lengthAdjust="spacingAndGlyphs" fill="#000">KLF1</text>
<polyline points="56.20,403.90 59.60,406.00 56.20,408.10" fill="none" stroke="#111" stroke-width="0.9"/>
<text x="22.20" y="440.20" font-size="10.5" stroke="#000" stroke-width="0.12" text-anchor="start" textLength="37.7" lengthAdjust="spacingAndGlyphs" fill="#000">GAPDH</text>
<defs><filter id="b1" x="-50%" y="-100%" width="200%" height="300%"><feGaussianBlur stdDeviation="0.9 0.6"/></filter><filter id="b2" x="-50%" y="-100%" width="200%" height="300%"><feGaussianBlur stdDeviation="1.2 0.9"/></filter><linearGradient id="gk" x1="0" y1="0" x2="0" y2="1"><stop offset="0" stop-color="#a8a8a8"/><stop offset="0.3" stop-color="#9c9c9c"/><stop offset="1" stop-color="#8e8e8e"/></linearGradient></defs>
<rect x="61.20" y="396.40" width="178.80" height="20.60" fill="url(#gk)" stroke="#222" stroke-width="1.1"/>
<line x1="61.20" y1="416.60" x2="240.00" y2="416.60" stroke="#222" stroke-width="1.4"/>
<ellipse cx="70.70" cy="399.2" rx="5" ry="1.0" fill="#666" opacity="0.4" filter="url(#b1)"/>
<ellipse cx="70.70" cy="406.2" rx="5" ry="1.3" fill="#222" opacity="0.65" filter="url(#b1)"/>
<ellipse cx="85.10" cy="399.2" rx="5" ry="1.0" fill="#666" opacity="0.4" filter="url(#b1)"/>
<ellipse cx="85.10" cy="406.2" rx="5" ry="1.3" fill="#222" opacity="0.20" filter="url(#b1)"/>
<ellipse cx="99.50" cy="399.2" rx="5" ry="1.0" fill="#666" opacity="0.4" filter="url(#b1)"/>
<ellipse cx="99.50" cy="406.2" rx="5" ry="1.3" fill="#222" opacity="0.55" filter="url(#b1)"/>
<ellipse cx="113.50" cy="399.2" rx="5" ry="1.0" fill="#666" opacity="0.4" filter="url(#b1)"/>
<ellipse cx="113.50" cy="406.2" rx="5" ry="1.3" fill="#222" opacity="0.20" filter="url(#b1)"/>
<ellipse cx="126.60" cy="399.2" rx="5" ry="1.0" fill="#666" opacity="0.4" filter="url(#b1)"/>
<path d="M121.40,405.6 Q122.60,403.6 126.60,404.4 L133.40,406.2 Q130.60,408.6 122.60,408.0 Z" fill="#000" filter="url(#b1)"/>
<ellipse cx="141.00" cy="399.2" rx="5" ry="1.0" fill="#666" opacity="0.4" filter="url(#b1)"/>
<ellipse cx="141.00" cy="406.2" rx="5" ry="1.3" fill="#222" opacity="0.30" filter="url(#b1)"/>
<ellipse cx="155.30" cy="399.2" rx="5" ry="1.0" fill="#666" opacity="0.4" filter="url(#b1)"/>
<ellipse cx="155.30" cy="406.2" rx="5" ry="1.3" fill="#222" opacity="0.60" filter="url(#b1)"/>
<ellipse cx="168.50" cy="399.2" rx="5" ry="1.0" fill="#666" opacity="0.4" filter="url(#b1)"/>
<ellipse cx="168.50" cy="406.2" rx="5" ry="1.3" fill="#222" opacity="0.25" filter="url(#b1)"/>
<ellipse cx="182.70" cy="399.2" rx="5" ry="1.0" fill="#666" opacity="0.4" filter="url(#b1)"/>
<ellipse cx="182.70" cy="406.2" rx="5" ry="1.3" fill="#222" opacity="0.60" filter="url(#b1)"/>
<ellipse cx="197.00" cy="399.2" rx="5" ry="1.0" fill="#666" opacity="0.4" filter="url(#b1)"/>
<ellipse cx="197.00" cy="406.2" rx="5" ry="1.3" fill="#222" opacity="0.15" filter="url(#b1)"/>
<ellipse cx="211.00" cy="399.2" rx="5" ry="1.0" fill="#666" opacity="0.4" filter="url(#b1)"/>
<ellipse cx="211.00" cy="406.2" rx="5" ry="1.3" fill="#222" opacity="0.30" filter="url(#b1)"/>
<ellipse cx="225.00" cy="399.2" rx="5" ry="1.0" fill="#666" opacity="0.4" filter="url(#b1)"/>
<ellipse cx="225.00" cy="406.2" rx="5" ry="1.3" fill="#222" opacity="0.15" filter="url(#b1)"/>
<rect x="61.20" y="422.80" width="178.80" height="26.80" fill="#969696" stroke="#222" stroke-width="1.1"/>
<line x1="61.20" y1="449.20" x2="240.00" y2="449.20" stroke="#222" stroke-width="1.3"/>
<ellipse cx="70.70" cy="437.00" rx="5.3" ry="1.7" fill="#111" opacity="0.95" filter="url(#b1)"/>
<ellipse cx="85.10" cy="437.00" rx="5.3" ry="1.7" fill="#111" opacity="0.90" filter="url(#b1)"/>
<ellipse cx="99.50" cy="437.00" rx="5.3" ry="1.7" fill="#111" opacity="0.90" filter="url(#b1)"/>
<ellipse cx="113.50" cy="437.60" rx="5.3" ry="1.7" fill="#111" opacity="0.95" filter="url(#b1)"/>
<ellipse cx="126.60" cy="437.00" rx="5.3" ry="1.7" fill="#111" opacity="0.90" filter="url(#b1)"/>
<ellipse cx="141.00" cy="437.30" rx="5.3" ry="1.7" fill="#111" opacity="0.80" filter="url(#b1)"/>
<ellipse cx="155.30" cy="437.00" rx="5.3" ry="1.7" fill="#111" opacity="0.85" filter="url(#b1)"/>
<ellipse cx="168.50" cy="437.00" rx="5.3" ry="1.7" fill="#111" opacity="0.95" filter="url(#b1)"/>
<ellipse cx="182.70" cy="437.00" rx="5.3" ry="1.7" fill="#111" opacity="0.85" filter="url(#b1)"/>
<ellipse cx="197.00" cy="437.00" rx="5.3" ry="1.7" fill="#111" opacity="0.85" filter="url(#b1)"/>
<ellipse cx="211.00" cy="437.00" rx="5.3" ry="1.7" fill="#111" opacity="0.85" filter="url(#b1)"/>
<ellipse cx="225.00" cy="437.40" rx="5.3" ry="1.7" fill="#111" opacity="0.90" filter="url(#b1)"/>
<text x="291.20" y="357.60" font-size="17.5" font-weight="bold" stroke="#000" stroke-width="0.22" text-anchor="start" fill="#000">D</text>
<text x="352.70" y="359.50" font-size="10.5" stroke="#000" stroke-width="0.12" text-anchor="start" textLength="33.400000000000034" lengthAdjust="spacingAndGlyphs" fill="#000">Day 14</text>
<text x="401.00" y="359.50" font-size="10.5" stroke="#000" stroke-width="0.12" text-anchor="start" textLength="34.19999999999999" lengthAdjust="spacingAndGlyphs" fill="#000">Day 16</text>
<text x="446.80" y="359.50" font-size="10.5" stroke="#000" stroke-width="0.12" text-anchor="start" textLength="34.19999999999999" lengthAdjust="spacingAndGlyphs" fill="#000">Day 18</text>
<line x1="351.00" y1="364.10" x2="390.20" y2="364.10" stroke="#555" stroke-width="1.0"/>
<line x1="397.50" y1="364.10" x2="436.50" y2="364.10" stroke="#555" stroke-width="1.0"/>
<line x1="443.30" y1="364.10" x2="482.30" y2="364.10" stroke="#555" stroke-width="1.0"/>
<line x1="495.80" y1="364.10" x2="508.70" y2="364.10" stroke="#555" stroke-width="1.0"/>
<text x="504.20" y="340.00" font-size="10.5" stroke="#000" stroke-width="0.12" text-anchor="middle" textLength="41" lengthAdjust="spacingAndGlyphs" transform="rotate(-90 504.2 340)" fill="#000">+ control</text>
<text x="289.70" y="377.00" font-size="9.4" stroke="#000" stroke-width="0.12" text-anchor="start" textLength="52.4" lengthAdjust="spacingAndGlyphs" fill="#000">Statin (5µM)</text>
<text x="289.70" y="390.80" font-size="9.4" stroke="#000" stroke-width="0.12" text-anchor="start" textLength="51.5" lengthAdjust="spacingAndGlyphs" fill="#000">tBHQ (5µM)</text>
<line x1="351.20" y1="373.80" x2="354.20" y2="373.80" stroke="#111" stroke-width="0.95"/>
<line x1="351.20" y1="387.00" x2="354.20" y2="387.00" stroke="#111" stroke-width="0.95"/>
<line x1="361.10" y1="373.80" x2="364.10" y2="373.80" stroke="#111" stroke-width="0.95"/>
<line x1="360.20" y1="387.00" x2="365.00" y2="387.00" stroke="#111" stroke-width="0.95"/>
<line x1="362.60" y1="384.60" x2="362.60" y2="389.40" stroke="#111" stroke-width="0.95"/>
<line x1="371.00" y1="373.80" x2="375.80" y2="373.80" stroke="#111" stroke-width="0.95"/>
<line x1="373.40" y1="371.40" x2="373.40" y2="376.20" stroke="#111" stroke-width="0.95"/>
<line x1="371.90" y1="387.00" x2="374.90" y2="387.00" stroke="#111" stroke-width="0.95"/>
<line x1="383.10" y1="373.80" x2="387.90" y2="373.80" stroke="#111" stroke-width="0.95"/>
<line x1="385.50" y1="371.40" x2="385.50" y2="376.20" stroke="#111" stroke-width="0.95"/>
<line x1="383.10" y1="387.00" x2="387.90" y2="387.00" stroke="#111" stroke-width="0.95"/>
<line x1="385.50" y1="384.60" x2="385.50" y2="389.40" stroke="#111" stroke-width="0.95"/>
<line x1="396.80" y1="373.80" x2="399.80" y2="373.80" stroke="#111" stroke-width="0.95"/>
<line x1="396.80" y1="387.00" x2="399.80" y2="387.00" stroke="#111" stroke-width="0.95"/>
<line x1="406.80" y1="373.80" x2="409.80" y2="373.80" stroke="#111" stroke-width="0.95"/>
<line x1="405.90" y1="387.00" x2="410.70" y2="387.00" stroke="#111" stroke-width="0.95"/>
<line x1="408.30" y1="384.60" x2="408.30" y2="389.40" stroke="#111" stroke-width="0.95"/>
<line x1="416.60" y1="373.80" x2="421.40" y2="373.80" stroke="#111" stroke-width="0.95"/>
<line x1="419.00" y1="371.40" x2="419.00" y2="376.20" stroke="#111" stroke-width="0.95"/>
<line x1="417.50" y1="387.00" x2="420.50" y2="387.00" stroke="#111" stroke-width="0.95"/>
<line x1="429.30" y1="373.80" x2="434.10" y2="373.80" stroke="#111" stroke-width="0.95"/>
<line x1="431.70" y1="371.40" x2="431.70" y2="376.20" stroke="#111" stroke-width="0.95"/>
<line x1="429.30" y1="387.00" x2="434.10" y2="387.00" stroke="#111" stroke-width="0.95"/>
<line x1="431.70" y1="384.60" x2="431.70" y2="389.40" stroke="#111" stroke-width="0.95"/>
<line x1="443.10" y1="373.80" x2="446.10" y2="373.80" stroke="#111" stroke-width="0.95"/>
<line x1="443.10" y1="387.00" x2="446.10" y2="387.00" stroke="#111" stroke-width="0.95"/>
<line x1="452.50" y1="373.80" x2="455.50" y2="373.80" stroke="#111" stroke-width="0.95"/>
<line x1="451.60" y1="387.00" x2="456.40" y2="387.00" stroke="#111" stroke-width="0.95"/>
<line x1="454.00" y1="384.60" x2="454.00" y2="389.40" stroke="#111" stroke-width="0.95"/>
<line x1="462.40" y1="373.80" x2="467.20" y2="373.80" stroke="#111" stroke-width="0.95"/>
<line x1="464.80" y1="371.40" x2="464.80" y2="376.20" stroke="#111" stroke-width="0.95"/>
<line x1="463.30" y1="387.00" x2="466.30" y2="387.00" stroke="#111" stroke-width="0.95"/>
<line x1="475.10" y1="373.80" x2="479.90" y2="373.80" stroke="#111" stroke-width="0.95"/>
<line x1="477.50" y1="371.40" x2="477.50" y2="376.20" stroke="#111" stroke-width="0.95"/>
<line x1="475.10" y1="387.00" x2="479.90" y2="387.00" stroke="#111" stroke-width="0.95"/>
<line x1="477.50" y1="384.60" x2="477.50" y2="389.40" stroke="#111" stroke-width="0.95"/>
<text x="296.25" y="411.60" font-size="10.5" stroke="#000" stroke-width="0.12" text-anchor="start" textLength="40" lengthAdjust="spacingAndGlyphs" fill="#000">BCL11A</text>
<text x="298.10" y="437.50" font-size="10.5" stroke="#000" stroke-width="0.12" text-anchor="start" textLength="38.1" lengthAdjust="spacingAndGlyphs" fill="#000">GAPDH</text>
<rect x="344.00" y="396.40" width="165.40" height="18.90" fill="#cdcdcd" stroke="#222" stroke-width="1.1"/>
<line x1="344.00" y1="415.00" x2="509.40" y2="415.00" stroke="#222" stroke-width="1.3"/>
<ellipse cx="349.60" cy="405.60" rx="2.8" ry="2.2" fill="#333" opacity="0.85" filter="url(#b2)"/>
<ellipse cx="354.20" cy="405.60" rx="2.8" ry="2.2" fill="#333" opacity="0.85" filter="url(#b2)"/>
<ellipse cx="351.80" cy="410.60" rx="4.3" ry="1.5" fill="#888" opacity="0.45" filter="url(#b2)"/>
<ellipse cx="373.50" cy="404.80" rx="2.4" ry="2.0" fill="#444" opacity="0.8" filter="url(#b2)"/>
<ellipse cx="377.70" cy="404.80" rx="2.4" ry="2.0" fill="#444" opacity="0.8" filter="url(#b2)"/>
<ellipse cx="373.50" cy="411.00" rx="2.4" ry="2.0" fill="#333" opacity="0.85" filter="url(#b2)"/>
<ellipse cx="377.70" cy="411.00" rx="2.4" ry="2.0" fill="#333" opacity="0.85" filter="url(#b2)"/>
<ellipse cx="396.30" cy="404.40" rx="2.9" ry="3.3" fill="#000" opacity="1.0" filter="url(#b2)"/>
<ellipse cx="400.80" cy="404.40" rx="2.9" ry="3.3" fill="#000" opacity="1.0" filter="url(#b2)"/>
<ellipse cx="396.30" cy="410.90" rx="2.7" ry="2.8" fill="#1a1a1a" opacity="0.95" filter="url(#b2)"/>
<ellipse cx="400.80" cy="410.90" rx="2.7" ry="2.8" fill="#1a1a1a" opacity="0.95" filter="url(#b2)"/>
<ellipse cx="418.50" cy="404.60" rx="1.9" ry="1.8" fill="#666" opacity="0.55" filter="url(#b2)"/>
<ellipse cx="422.10" cy="404.60" rx="1.9" ry="1.8" fill="#666" opacity="0.55" filter="url(#b2)"/>
<ellipse cx="420.30" cy="410.30" rx="3.6" ry="1.5" fill="#888" opacity="0.4" filter="url(#b2)"/>
<ellipse cx="441.20" cy="404.00" rx="2.3" ry="2.0" fill="#333" opacity="0.8" filter="url(#b2)"/>
<ellipse cx="445.40" cy="404.00" rx="2.3" ry="2.0" fill="#333" opacity="0.8" filter="url(#b2)"/>
<ellipse cx="441.20" cy="410.00" rx="2.3" ry="1.8" fill="#555" opacity="0.65" filter="url(#b2)"/>
<ellipse cx="445.40" cy="410.00" rx="2.3" ry="1.8" fill="#555" opacity="0.65" filter="url(#b2)"/>
<ellipse cx="463.80" cy="404.20" rx="1.9" ry="1.8" fill="#666" opacity="0.55" filter="url(#b2)"/>
<ellipse cx="467.40" cy="404.20" rx="1.9" ry="1.8" fill="#666" opacity="0.55" filter="url(#b2)"/>
<ellipse cx="465.60" cy="410.20" rx="3.6" ry="1.6" fill="#888" opacity="0.45" filter="url(#b2)"/>
<path d="M493.0,404.6 Q499,403.0 504.8,400.2 L504.8,403.8 Q499,405.8 493.0,406.4 Z" fill="#555" opacity="0.75" filter="url(#b1)"/>
<rect x="344.00" y="422.60" width="165.40" height="23.40" fill="#979797" stroke="#222" stroke-width="1.1"/>
<line x1="344.00" y1="445.70" x2="509.40" y2="445.70" stroke="#222" stroke-width="1.3"/>
<path d="M346,434.9 C360,435.2 370,434.6 385,434.3 C400,434.0 410,433.6 430,433.2 C445,433.0 455,434.4 470,434.6 L481.5,434.5" fill="none" stroke="#111" stroke-width="1.3" filter="url(#b1)"/>
<line x1="494.00" y1="434.60" x2="503.00" y2="434.60" stroke="#777" stroke-width="0.8"/>
<text x="17.20" y="488.70" font-size="17.5" font-weight="bold" stroke="#000" stroke-width="0.22" text-anchor="start" fill="#000">E</text>
<line x1="64.50" y1="489.67" x2="64.50" y2="568.50" stroke="#000" stroke-width="1.1"/>
<line x1="64.00" y1="568.00" x2="181.42" y2="568.00" stroke="#000" stroke-width="1.1"/>
<line x1="62.20" y1="568.00" x2="64.50" y2="568.00" stroke="#000" stroke-width="0.9"/>
<text x="62.20" y="570.20" font-size="6.2" font-weight="bold" stroke="#000" stroke-width="0.22" text-anchor="end" fill="#000">0</text>
<line x1="62.20" y1="559.33" x2="64.50" y2="559.33" stroke="#000" stroke-width="0.9"/>
<text x="62.20" y="561.53" font-size="6.2" font-weight="bold" stroke="#000" stroke-width="0.22" text-anchor="end" fill="#000">10</text>
<line x1="62.20" y1="550.66" x2="64.50" y2="550.66" stroke="#000" stroke-width="0.9"/>
<text x="62.20" y="552.86" font-size="6.2" font-weight="bold" stroke="#000" stroke-width="0.22" text-anchor="end" fill="#000">20</text>
<line x1="62.20" y1="541.99" x2="64.50" y2="541.99" stroke="#000" stroke-width="0.9"/>
<text x="62.20" y="544.19" font-size="6.2" font-weight="bold" stroke="#000" stroke-width="0.22" text-anchor="end" fill="#000">30</text>
<line x1="62.20" y1="533.32" x2="64.50" y2="533.32" stroke="#000" stroke-width="0.9"/>
<text x="62.20" y="535.52" font-size="6.2" font-weight="bold" stroke="#000" stroke-width="0.22" text-anchor="end" fill="#000">40</text>
<line x1="62.20" y1="524.65" x2="64.50" y2="524.65" stroke="#000" stroke-width="0.9"/>
<text x="62.20" y="526.85" font-size="6.2" font-weight="bold" stroke="#000" stroke-width="0.22" text-anchor="end" fill="#000">50</text>
<line x1="62.20" y1="515.98" x2="64.50" y2="515.98" stroke="#000" stroke-width="0.9"/>
<text x="62.20" y="518.18" font-size="6.2" font-weight="bold" stroke="#000" stroke-width="0.22" text-anchor="end" fill="#000">60</text>
<line x1="62.20" y1="507.31" x2="64.50" y2="507.31" stroke="#000" stroke-width="0.9"/>
<text x="62.20" y="509.51" font-size="6.2" font-weight="bold" stroke="#000" stroke-width="0.22" text-anchor="end" fill="#000">70</text>
<line x1="62.20" y1="498.64" x2="64.50" y2="498.64" stroke="#000" stroke-width="0.9"/>
<text x="62.20" y="500.84" font-size="6.2" font-weight="bold" stroke="#000" stroke-width="0.22" text-anchor="end" fill="#000">80</text>
<line x1="62.20" y1="489.97" x2="64.50" y2="489.97" stroke="#000" stroke-width="0.9"/>
<text x="62.20" y="492.17" font-size="6.2" font-weight="bold" stroke="#000" stroke-width="0.22" text-anchor="end" fill="#000">90</text>
<line x1="64.50" y1="568.00" x2="64.50" y2="570.60" stroke="#000" stroke-width="0.9"/>
<text x="64.50" y="576.50" font-size="5.5" font-weight="bold" stroke="#000" stroke-width="0.22" text-anchor="middle" fill="#000">7</text>
<line x1="122.81" y1="568.00" x2="122.81" y2="570.60" stroke="#000" stroke-width="0.9"/>
<text x="122.81" y="576.50" font-size="5.5" font-weight="bold" stroke="#000" stroke-width="0.22" text-anchor="middle" fill="#000">14</text>
<line x1="181.12" y1="568.00" x2="181.12" y2="570.60" stroke="#000" stroke-width="0.9"/>
<text x="181.12" y="576.50" font-size="5.5" font-weight="bold" stroke="#000" stroke-width="0.22" text-anchor="middle" fill="#000">21</text>
<line x1="93.66" y1="568.00" x2="93.66" y2="569.60" stroke="#000" stroke-width="0.8"/>
<line x1="151.97" y1="568.00" x2="151.97" y2="569.60" stroke="#000" stroke-width="0.8"/>
<text x="51.20" y="529.60" font-size="6.5" font-weight="bold" stroke="#000" stroke-width="0.22" text-anchor="middle" textLength="43.9" lengthAdjust="spacingAndGlyphs" transform="rotate(-90 51.2 529.6)" fill="#000">% GPA+ Cells</text>
<text x="123.30" y="585.20" font-size="6.4" font-weight="bold" stroke="#000" stroke-width="0.22" text-anchor="middle" textLength="43.7" lengthAdjust="spacingAndGlyphs" fill="#000">Day of Culture</text>
<polyline points="64.50,563.66 122.81,521.18 172.79,503.84" fill="none" stroke="#111" stroke-width="0.8"/>
<polyline points="64.50,563.66 122.81,536.79 172.79,522.05" fill="none" stroke="#555" stroke-width="0.8"/>
<polyline points="64.50,563.66 122.81,530.72 172.79,512.08" fill="none" stroke="#222" stroke-width="0.8"/>
<polyline points="64.50,563.66 122.81,544.59 172.79,532.89" fill="none" stroke="#555" stroke-width="0.8"/>
<line x1="122.81" y1="516.85" x2="122.81" y2="525.52" stroke="#333" stroke-width="0.6"/>
<line x1="121.31" y1="516.85" x2="124.31" y2="516.85" stroke="#333" stroke-width="0.6"/>
<line x1="121.31" y1="525.52" x2="124.31" y2="525.52" stroke="#333" stroke-width="0.6"/>
<line x1="172.79" y1="501.24" x2="172.79" y2="506.44" stroke="#333" stroke-width="0.6"/>
<line x1="171.29" y1="501.24" x2="174.29" y2="501.24" stroke="#333" stroke-width="0.6"/>
<line x1="171.29" y1="506.44" x2="174.29" y2="506.44" stroke="#333" stroke-width="0.6"/>
<line x1="172.79" y1="509.91" x2="172.79" y2="514.25" stroke="#333" stroke-width="0.6"/>
<line x1="171.29" y1="509.91" x2="174.29" y2="509.91" stroke="#333" stroke-width="0.6"/>
<line x1="171.29" y1="514.25" x2="174.29" y2="514.25" stroke="#333" stroke-width="0.6"/>
<line x1="172.79" y1="516.85" x2="172.79" y2="528.99" stroke="#666" stroke-width="0.6"/>
<line x1="171.29" y1="516.85" x2="174.29" y2="516.85" stroke="#666" stroke-width="0.6"/>
<line x1="171.29" y1="528.99" x2="174.29" y2="528.99" stroke="#666" stroke-width="0.6"/>
<line x1="172.79" y1="528.99" x2="172.79" y2="536.79" stroke="#666" stroke-width="0.6"/>
<line x1="171.29" y1="528.99" x2="174.29" y2="528.99" stroke="#666" stroke-width="0.6"/>
<line x1="171.29" y1="536.79" x2="174.29" y2="536.79" stroke="#666" stroke-width="0.6"/>
<line x1="122.81" y1="533.32" x2="122.81" y2="539.39" stroke="#666" stroke-width="0.6"/>
<line x1="121.31" y1="533.32" x2="124.31" y2="533.32" stroke="#666" stroke-width="0.6"/>
<line x1="121.31" y1="539.39" x2="124.31" y2="539.39" stroke="#666" stroke-width="0.6"/>
<polygon points="122.81,537.95 124.25,540.54 121.37,540.54" fill="#777"/>
<polygon points="172.79,535.35 174.23,537.94 171.35,537.94" fill="#777"/>
<circle cx="64.50" cy="563.66" r="2.6" fill="#111"/>
<circle cx="122.81" cy="521.18" r="1.87" fill="#111"/>
<circle cx="172.79" cy="503.84" r="1.87" fill="#111"/>
<line x1="122.81" y1="535.39" x2="122.81" y2="538.19" stroke="#555" stroke-width="0.7"/>
<line x1="121.76" y1="536.79" x2="123.86" y2="536.79" stroke="#555" stroke-width="0.7"/>
<line x1="172.79" y1="520.65" x2="172.79" y2="523.45" stroke="#555" stroke-width="0.7"/>
<line x1="171.74" y1="522.05" x2="173.84" y2="522.05" stroke="#555" stroke-width="0.7"/>
<rect x="120.21" y="527.92" width="5.20" height="5.60" fill="#fff" stroke="#111" stroke-width="1.3"/>
<rect x="170.19" y="509.28" width="5.20" height="5.60" fill="#fff" stroke="#111" stroke-width="1.3"/>
<line x1="122.81" y1="543.19" x2="122.81" y2="545.99" stroke="#555" stroke-width="0.7"/>
<line x1="121.76" y1="544.59" x2="123.86" y2="544.59" stroke="#555" stroke-width="0.7"/>
<line x1="172.79" y1="531.49" x2="172.79" y2="534.29" stroke="#555" stroke-width="0.7"/>
<line x1="171.74" y1="532.89" x2="173.84" y2="532.89" stroke="#555" stroke-width="0.7"/>
<line x1="189.50" y1="495.70" x2="200.40" y2="495.70" stroke="#333" stroke-width="0.8"/>
<circle cx="195.00" cy="495.70" r="1.54" fill="#000"/>
<text x="202.50" y="497.90" font-size="6.4" font-weight="bold" stroke="#000" stroke-width="0.22" text-anchor="start" fill="#000">untreated</text>
<line x1="189.50" y1="505.40" x2="200.40" y2="505.40" stroke="#888" stroke-width="0.8"/>
<text x="202.50" y="507.60" font-size="6.4" font-weight="bold" stroke="#000" stroke-width="0.22" text-anchor="start" fill="#000">5µM tBHQ</text>
<line x1="189.50" y1="514.80" x2="200.40" y2="514.80" stroke="#333" stroke-width="0.8"/>
<rect x="193.11" y="512.91" width="3.78" height="3.78" fill="#fff" stroke="#000" stroke-width="0.9"/>
<text x="202.50" y="517.00" font-size="6.4" font-weight="bold" stroke="#000" stroke-width="0.22" text-anchor="start" fill="#000">5µM statin</text>
<line x1="189.50" y1="523.40" x2="200.40" y2="523.40" stroke="#333" stroke-width="0.8"/>
<line x1="195.00" y1="521.80" x2="195.00" y2="523.40" stroke="#333" stroke-width="0.7"/>
<text x="202.50" y="525.60" font-size="6.4" font-weight="bold" stroke="#000" stroke-width="0.22" text-anchor="start" fill="#000">5µM statin + 5µM tBHQ</text>
<text x="291.50" y="488.70" font-size="17.5" font-weight="bold" stroke="#000" stroke-width="0.22" text-anchor="start" fill="#000">F</text>
<line x1="343.80" y1="489.73" x2="343.80" y2="567.30" stroke="#000" stroke-width="1.1"/>
<line x1="343.30" y1="566.80" x2="460.30" y2="566.80" stroke="#000" stroke-width="1.1"/>
<line x1="341.50" y1="566.80" x2="343.80" y2="566.80" stroke="#000" stroke-width="0.9"/>
<text x="340.70" y="568.90" font-size="5.8" font-weight="bold" stroke="#000" stroke-width="0.22" text-anchor="end" fill="#000">0</text>
<line x1="341.50" y1="558.27" x2="343.80" y2="558.27" stroke="#000" stroke-width="0.9"/>
<text x="340.70" y="560.37" font-size="5.8" font-weight="bold" stroke="#000" stroke-width="0.22" text-anchor="end" fill="#000">10</text>
<line x1="341.50" y1="549.74" x2="343.80" y2="549.74" stroke="#000" stroke-width="0.9"/>
<text x="340.70" y="551.84" font-size="5.8" font-weight="bold" stroke="#000" stroke-width="0.22" text-anchor="end" fill="#000">20</text>
<line x1="341.50" y1="541.21" x2="343.80" y2="541.21" stroke="#000" stroke-width="0.9"/>
<text x="340.70" y="543.31" font-size="5.8" font-weight="bold" stroke="#000" stroke-width="0.22" text-anchor="end" fill="#000">30</text>
<line x1="341.50" y1="532.68" x2="343.80" y2="532.68" stroke="#000" stroke-width="0.9"/>
<text x="340.70" y="534.78" font-size="5.8" font-weight="bold" stroke="#000" stroke-width="0.22" text-anchor="end" fill="#000">40</text>
<line x1="341.50" y1="524.15" x2="343.80" y2="524.15" stroke="#000" stroke-width="0.9"/>
<text x="340.70" y="526.25" font-size="5.8" font-weight="bold" stroke="#000" stroke-width="0.22" text-anchor="end" fill="#000">50</text>
<line x1="341.50" y1="515.62" x2="343.80" y2="515.62" stroke="#000" stroke-width="0.9"/>
<text x="340.70" y="517.72" font-size="5.8" font-weight="bold" stroke="#000" stroke-width="0.22" text-anchor="end" fill="#000">60</text>
<line x1="341.50" y1="507.09" x2="343.80" y2="507.09" stroke="#000" stroke-width="0.9"/>
<text x="340.70" y="509.19" font-size="5.8" font-weight="bold" stroke="#000" stroke-width="0.22" text-anchor="end" fill="#000">70</text>
<line x1="341.50" y1="498.56" x2="343.80" y2="498.56" stroke="#000" stroke-width="0.9"/>
<text x="340.70" y="500.66" font-size="5.8" font-weight="bold" stroke="#000" stroke-width="0.22" text-anchor="end" fill="#000">80</text>
<line x1="341.50" y1="490.03" x2="343.80" y2="490.03" stroke="#000" stroke-width="0.9"/>
<text x="340.70" y="492.13" font-size="5.8" font-weight="bold" stroke="#000" stroke-width="0.22" text-anchor="end" fill="#000">90</text>
<line x1="343.80" y1="566.80" x2="343.80" y2="569.40" stroke="#000" stroke-width="0.9"/>
<text x="343.80" y="575.00" font-size="5.5" font-weight="bold" stroke="#000" stroke-width="0.22" text-anchor="middle" fill="#000">7</text>
<line x1="401.90" y1="566.80" x2="401.90" y2="569.40" stroke="#000" stroke-width="0.9"/>
<text x="401.90" y="575.00" font-size="5.5" font-weight="bold" stroke="#000" stroke-width="0.22" text-anchor="middle" fill="#000">14</text>
<line x1="460.00" y1="566.80" x2="460.00" y2="569.40" stroke="#000" stroke-width="0.9"/>
<text x="460.00" y="575.00" font-size="5.5" font-weight="bold" stroke="#000" stroke-width="0.22" text-anchor="middle" fill="#000">21</text>
<line x1="372.85" y1="566.80" x2="372.85" y2="568.40" stroke="#000" stroke-width="0.8"/>
<line x1="430.95" y1="566.80" x2="430.95" y2="568.40" stroke="#000" stroke-width="0.8"/>
<text x="324.80" y="527.50" font-size="6.5" font-weight="bold" stroke="#000" stroke-width="0.22" text-anchor="middle" textLength="45" lengthAdjust="spacingAndGlyphs" transform="rotate(-90 324.8 527.5)" fill="#000">% CD71+ Cells</text>
<text x="402.00" y="586.20" font-size="6.4" font-weight="bold" stroke="#000" stroke-width="0.22" text-anchor="middle" textLength="42" lengthAdjust="spacingAndGlyphs" fill="#000">Day of Culture</text>
<polyline points="343.80,498.56 401.90,538.65 451.70,552.30" fill="none" stroke="#111" stroke-width="0.9"/>
<polyline points="343.80,497.71 401.90,539.50 451.70,554.00" fill="none" stroke="#333" stroke-width="0.9"/>
<polyline points="343.80,498.56 401.90,532.68 451.70,557.42" fill="none" stroke="#555" stroke-width="0.9"/>
<polyline points="343.80,498.56 401.90,531.83 451.70,549.74" fill="none" stroke="#666" stroke-width="0.9"/>
<line x1="343.80" y1="492.59" x2="343.80" y2="502.82" stroke="#222" stroke-width="0.6"/>
<line x1="342.30" y1="492.59" x2="345.30" y2="492.59" stroke="#222" stroke-width="0.6"/>
<line x1="342.30" y1="502.82" x2="345.30" y2="502.82" stroke="#222" stroke-width="0.6"/>
<line x1="401.90" y1="527.56" x2="401.90" y2="544.62" stroke="#222" stroke-width="0.7"/>
<line x1="400.30" y1="527.56" x2="403.50" y2="527.56" stroke="#222" stroke-width="0.7"/>
<line x1="400.30" y1="544.62" x2="403.50" y2="544.62" stroke="#222" stroke-width="0.7"/>
<line x1="451.70" y1="547.18" x2="451.70" y2="559.12" stroke="#222" stroke-width="0.7"/>
<line x1="450.10" y1="547.18" x2="453.30" y2="547.18" stroke="#222" stroke-width="0.7"/>
<line x1="450.10" y1="559.12" x2="453.30" y2="559.12" stroke="#222" stroke-width="0.7"/>
<rect x="341.91" y="496.67" width="3.78" height="3.78" fill="#111"/>
<rect x="400.01" y="536.76" width="3.78" height="3.78" fill="#111"/>
<rect x="449.81" y="550.41" width="3.78" height="3.78" fill="#111"/>
<polygon points="343.80,496.09 345.42,497.71 343.80,499.33 342.18,497.71" fill="#111"/>
<polygon points="401.90,537.88 403.52,539.50 401.90,541.12 400.28,539.50" fill="#111"/>
<polygon points="451.70,552.38 453.32,554.00 451.70,555.62 450.08,554.00" fill="#111"/>
<rect x="341.91" y="496.67" width="3.78" height="3.78" fill="#fff" stroke="#222" stroke-width="0.9"/>
<rect x="400.01" y="530.79" width="3.78" height="3.78" fill="#fff" stroke="#222" stroke-width="0.9"/>
<rect x="449.81" y="555.53" width="3.78" height="3.78" fill="#fff" stroke="#222" stroke-width="0.9"/>
<circle cx="343.80" cy="498.56" r="1.62" fill="#fff" stroke="#222" stroke-width="0.8"/>
<circle cx="401.90" cy="531.83" r="1.62" fill="#fff" stroke="#222" stroke-width="0.8"/>
<circle cx="451.70" cy="549.74" r="1.62" fill="#fff" stroke="#222" stroke-width="0.8"/>
<rect x="341.60" y="495.15" width="4.40" height="5.97" fill="#111"/>
<rect x="399.90" y="531.83" width="4.00" height="8.53" fill="#222"/>
<rect x="449.90" y="549.74" width="3.60" height="5.12" fill="#222"/>
<line x1="468.00" y1="494.30" x2="476.50" y2="494.30" stroke="#444" stroke-width="0.8"/>
<rect x="470.94" y="493.04" width="2.52" height="2.52" fill="#000"/>
<text x="482.00" y="496.50" font-size="6.3" font-weight="bold" stroke="#000" stroke-width="0.22" text-anchor="start" fill="#000">untreated</text>
<line x1="468.00" y1="503.10" x2="476.50" y2="503.10" stroke="#444" stroke-width="0.8"/>
<polygon points="472.20,502.02 473.28,503.10 472.20,504.18 471.12,503.10" fill="#000"/>
<text x="482.00" y="505.30" font-size="6.3" font-weight="bold" stroke="#000" stroke-width="0.22" text-anchor="start" fill="#000">5µM tBHQ</text>
<line x1="468.00" y1="512.30" x2="476.50" y2="512.30" stroke="#444" stroke-width="0.8"/>
<rect x="470.94" y="511.04" width="2.52" height="2.52" fill="#fff" stroke="#000" stroke-width="0.9"/>
<text x="482.00" y="514.50" font-size="6.3" font-weight="bold" stroke="#000" stroke-width="0.22" text-anchor="start" fill="#000">5µM statin</text>
<line x1="468.00" y1="525.00" x2="476.50" y2="525.00" stroke="#444" stroke-width="0.8"/>
<circle cx="472.20" cy="525.00" r="1.08" fill="#fff" stroke="#000" stroke-width="0.8"/>
<text x="482.00" y="523.60" font-size="6.3" font-weight="bold" stroke="#000" stroke-width="0.22" text-anchor="start" fill="#000">5µM statin</text>
<text x="481.50" y="531.40" font-size="6.3" font-weight="bold" stroke="#000" stroke-width="0.22" text-anchor="start" fill="#000">+ 5µM tBHQ</text>
<text x="136.60" y="614.40" font-size="17.5" font-weight="bold" stroke="#000" stroke-width="0.22" text-anchor="start" fill="#000">G</text>
<text x="232.00" y="610.00" font-size="7.8" font-weight="bold" stroke="#000" stroke-width="0.22" text-anchor="start" textLength="91.2" lengthAdjust="spacingAndGlyphs" fill="#000">Gene Expression Day 14</text>
<line x1="182.20" y1="621.00" x2="182.20" y2="720.80" stroke="#000" stroke-width="1.1"/>
<line x1="179.60" y1="720.30" x2="182.20" y2="720.30" stroke="#000" stroke-width="0.9"/>
<text x="178.90" y="722.30" font-size="5.6" font-weight="bold" stroke="#000" stroke-width="0.22" text-anchor="end" fill="#000">0.0</text>
<line x1="179.60" y1="687.30" x2="182.20" y2="687.30" stroke="#000" stroke-width="0.9"/>
<text x="178.90" y="689.30" font-size="5.6" font-weight="bold" stroke="#000" stroke-width="0.22" text-anchor="end" fill="#000">0.5</text>
<line x1="179.60" y1="654.30" x2="182.20" y2="654.30" stroke="#000" stroke-width="0.9"/>
<text x="178.90" y="656.30" font-size="5.6" font-weight="bold" stroke="#000" stroke-width="0.22" text-anchor="end" fill="#000">1.0</text>
<line x1="179.60" y1="621.30" x2="182.20" y2="621.30" stroke="#000" stroke-width="0.9"/>
<text x="178.90" y="623.30" font-size="5.6" font-weight="bold" stroke="#000" stroke-width="0.22" text-anchor="end" fill="#000">1.5</text>
<text x="162.20" y="669.50" font-size="6.3" font-weight="bold" stroke="#000" stroke-width="0.22" text-anchor="middle" textLength="79" lengthAdjust="spacingAndGlyphs" transform="rotate(-90 162.2 669.5)" fill="#000">Relative gene expression</text>
<text x="169.90" y="670.00" font-size="6.1" font-weight="bold" stroke="#000" stroke-width="0.22" text-anchor="middle" textLength="66.7" lengthAdjust="spacingAndGlyphs" transform="rotate(-90 169.9 670)" fill="#000">(Fold over Untreated)</text>
<line x1="187.00" y1="653.64" x2="187.00" y2="654.30" stroke="#000" stroke-width="0.7"/>
<line x1="186.00" y1="653.64" x2="188.00" y2="653.64" stroke="#000" stroke-width="0.7"/>
<rect x="185.45" y="654.30" width="3.30" height="66.00" fill="#fff" stroke="#111" stroke-width="0.7"/>
<line x1="192.10" y1="653.64" x2="192.10" y2="654.30" stroke="#000" stroke-width="0.7"/>
<line x1="191.10" y1="653.64" x2="193.10" y2="653.64" stroke="#000" stroke-width="0.7"/>
<rect x="190.55" y="654.30" width="3.30" height="66.00" fill="#8c8c8c" stroke="#111" stroke-width="0.7"/>
<line x1="197.50" y1="663.21" x2="197.50" y2="663.87" stroke="#000" stroke-width="0.7"/>
<line x1="196.50" y1="663.21" x2="198.50" y2="663.21" stroke="#000" stroke-width="0.7"/>
<rect x="195.95" y="663.87" width="3.30" height="56.43" fill="#2a2a2a" stroke="#111" stroke-width="0.7"/>
<line x1="202.60" y1="682.68" x2="202.60" y2="684.66" stroke="#000" stroke-width="0.7"/>
<line x1="201.60" y1="682.68" x2="203.60" y2="682.68" stroke="#000" stroke-width="0.7"/>
<rect x="201.05" y="684.66" width="3.30" height="35.64" fill="#000" stroke="#111" stroke-width="0.7"/>
<line x1="194.70" y1="720.30" x2="194.70" y2="722.80" stroke="#000" stroke-width="0.9"/>
<text x="196.20" y="728.50" font-size="6.0" font-weight="bold" stroke="#000" stroke-width="0.22" text-anchor="end" transform="rotate(-45 196.2 728.5)" fill="#000">KLF1</text>
<line x1="212.40" y1="649.68" x2="212.40" y2="654.30" stroke="#000" stroke-width="0.7"/>
<line x1="211.40" y1="649.68" x2="213.40" y2="649.68" stroke="#000" stroke-width="0.7"/>
<rect x="210.85" y="654.30" width="3.30" height="66.00" fill="#fff" stroke="#111" stroke-width="0.7"/>
<line x1="217.50" y1="652.98" x2="217.50" y2="654.30" stroke="#000" stroke-width="0.7"/>
<line x1="216.50" y1="652.98" x2="218.50" y2="652.98" stroke="#000" stroke-width="0.7"/>
<rect x="215.95" y="654.30" width="3.30" height="66.00" fill="#8c8c8c" stroke="#111" stroke-width="0.7"/>
<line x1="222.90" y1="674.76" x2="222.90" y2="676.74" stroke="#000" stroke-width="0.7"/>
<line x1="221.90" y1="674.76" x2="223.90" y2="674.76" stroke="#000" stroke-width="0.7"/>
<rect x="221.35" y="676.74" width="3.30" height="43.56" fill="#2a2a2a" stroke="#111" stroke-width="0.7"/>
<line x1="228.00" y1="693.24" x2="228.00" y2="695.88" stroke="#000" stroke-width="0.7"/>
<line x1="227.00" y1="693.24" x2="229.00" y2="693.24" stroke="#000" stroke-width="0.7"/>
<rect x="226.45" y="695.88" width="3.30" height="24.42" fill="#000" stroke="#111" stroke-width="0.7"/>
<line x1="220.10" y1="720.30" x2="220.10" y2="722.80" stroke="#000" stroke-width="0.9"/>
<text x="221.60" y="728.50" font-size="6.0" font-weight="bold" stroke="#000" stroke-width="0.22" text-anchor="end" transform="rotate(-45 221.6 728.5)" fill="#000">BCL11A</text>
<line x1="237.80" y1="653.64" x2="237.80" y2="654.30" stroke="#000" stroke-width="0.7"/>
<line x1="236.80" y1="653.64" x2="238.80" y2="653.64" stroke="#000" stroke-width="0.7"/>
<rect x="236.25" y="654.30" width="3.30" height="66.00" fill="#fff" stroke="#111" stroke-width="0.7"/>
<line x1="242.90" y1="653.64" x2="242.90" y2="654.30" stroke="#000" stroke-width="0.7"/>
<line x1="241.90" y1="653.64" x2="243.90" y2="653.64" stroke="#000" stroke-width="0.7"/>
<rect x="241.35" y="654.30" width="3.30" height="66.00" fill="#8c8c8c" stroke="#111" stroke-width="0.7"/>
<line x1="248.30" y1="697.20" x2="248.30" y2="697.86" stroke="#000" stroke-width="0.7"/>
<line x1="247.30" y1="697.20" x2="249.30" y2="697.20" stroke="#000" stroke-width="0.7"/>
<rect x="246.75" y="697.86" width="3.30" height="22.44" fill="#2a2a2a" stroke="#111" stroke-width="0.7"/>
<line x1="253.40" y1="705.12" x2="253.40" y2="705.78" stroke="#000" stroke-width="0.7"/>
<line x1="252.40" y1="705.12" x2="254.40" y2="705.12" stroke="#000" stroke-width="0.7"/>
<rect x="251.85" y="705.78" width="3.30" height="14.52" fill="#000" stroke="#111" stroke-width="0.7"/>
<line x1="245.50" y1="720.30" x2="245.50" y2="722.80" stroke="#000" stroke-width="0.9"/>
<text x="247.00" y="728.50" font-size="6.0" font-weight="bold" stroke="#000" stroke-width="0.22" text-anchor="end" transform="rotate(-45 247.0 728.5)" fill="#000">Band3</text>
<line x1="263.20" y1="653.64" x2="263.20" y2="654.30" stroke="#000" stroke-width="0.7"/>
<line x1="262.20" y1="653.64" x2="264.20" y2="653.64" stroke="#000" stroke-width="0.7"/>
<rect x="261.65" y="654.30" width="3.30" height="66.00" fill="#fff" stroke="#111" stroke-width="0.7"/>
<line x1="268.30" y1="653.64" x2="268.30" y2="654.30" stroke="#000" stroke-width="0.7"/>
<line x1="267.30" y1="653.64" x2="269.30" y2="653.64" stroke="#000" stroke-width="0.7"/>
<rect x="266.75" y="654.30" width="3.30" height="66.00" fill="#8c8c8c" stroke="#111" stroke-width="0.7"/>
<line x1="273.70" y1="647.90" x2="273.70" y2="654.50" stroke="#000" stroke-width="0.7"/>
<line x1="272.70" y1="647.90" x2="274.70" y2="647.90" stroke="#000" stroke-width="0.7"/>
<rect x="272.15" y="654.50" width="3.30" height="65.80" fill="#2a2a2a" stroke="#111" stroke-width="0.7"/>
<line x1="278.80" y1="667.83" x2="278.80" y2="670.47" stroke="#000" stroke-width="0.7"/>
<line x1="277.80" y1="667.83" x2="279.80" y2="667.83" stroke="#000" stroke-width="0.7"/>
<rect x="277.25" y="670.47" width="3.30" height="49.83" fill="#000" stroke="#111" stroke-width="0.7"/>
<line x1="270.90" y1="720.30" x2="270.90" y2="722.80" stroke="#000" stroke-width="0.9"/>
<text x="272.40" y="728.50" font-size="6.0" font-weight="bold" stroke="#000" stroke-width="0.22" text-anchor="end" transform="rotate(-45 272.4 728.5)" fill="#000">CPOX</text>
<line x1="288.60" y1="653.64" x2="288.60" y2="654.30" stroke="#000" stroke-width="0.7"/>
<line x1="287.60" y1="653.64" x2="289.60" y2="653.64" stroke="#000" stroke-width="0.7"/>
<rect x="287.05" y="654.30" width="3.30" height="66.00" fill="#fff" stroke="#111" stroke-width="0.7"/>
<line x1="293.70" y1="653.64" x2="293.70" y2="654.30" stroke="#000" stroke-width="0.7"/>
<line x1="292.70" y1="653.64" x2="294.70" y2="653.64" stroke="#000" stroke-width="0.7"/>
<rect x="292.15" y="654.30" width="3.30" height="66.00" fill="#8c8c8c" stroke="#111" stroke-width="0.7"/>
<line x1="299.10" y1="668.16" x2="299.10" y2="669.48" stroke="#000" stroke-width="0.7"/>
<line x1="298.10" y1="668.16" x2="300.10" y2="668.16" stroke="#000" stroke-width="0.7"/>
<rect x="297.55" y="669.48" width="3.30" height="50.82" fill="#2a2a2a" stroke="#111" stroke-width="0.7"/>
<line x1="304.20" y1="641.76" x2="304.20" y2="643.74" stroke="#000" stroke-width="0.7"/>
<line x1="303.20" y1="641.76" x2="305.20" y2="641.76" stroke="#000" stroke-width="0.7"/>
<rect x="302.65" y="643.74" width="3.30" height="76.56" fill="#000" stroke="#111" stroke-width="0.7"/>
<line x1="296.30" y1="720.30" x2="296.30" y2="722.80" stroke="#000" stroke-width="0.9"/>
<text x="297.80" y="728.50" font-size="6.0" font-weight="bold" stroke="#000" stroke-width="0.22" text-anchor="end" transform="rotate(-45 297.79999999999995 728.5)" fill="#000">Fech</text>
<line x1="314.00" y1="651.66" x2="314.00" y2="654.30" stroke="#000" stroke-width="0.7"/>
<line x1="313.00" y1="651.66" x2="315.00" y2="651.66" stroke="#000" stroke-width="0.7"/>
<rect x="312.45" y="654.30" width="3.30" height="66.00" fill="#fff" stroke="#111" stroke-width="0.7"/>
<line x1="319.10" y1="652.98" x2="319.10" y2="654.30" stroke="#000" stroke-width="0.7"/>
<line x1="318.10" y1="652.98" x2="320.10" y2="652.98" stroke="#000" stroke-width="0.7"/>
<rect x="317.55" y="654.30" width="3.30" height="66.00" fill="#8c8c8c" stroke="#111" stroke-width="0.7"/>
<line x1="324.50" y1="639.12" x2="324.50" y2="643.08" stroke="#000" stroke-width="0.7"/>
<line x1="323.50" y1="639.12" x2="325.50" y2="639.12" stroke="#000" stroke-width="0.7"/>
<rect x="322.95" y="643.08" width="3.30" height="77.22" fill="#2a2a2a" stroke="#111" stroke-width="0.7"/>
<line x1="329.60" y1="665.52" x2="329.60" y2="666.84" stroke="#000" stroke-width="0.7"/>
<line x1="328.60" y1="665.52" x2="330.60" y2="665.52" stroke="#000" stroke-width="0.7"/>
<rect x="328.05" y="666.84" width="3.30" height="53.46" fill="#000" stroke="#111" stroke-width="0.7"/>
<line x1="321.70" y1="720.30" x2="321.70" y2="722.80" stroke="#000" stroke-width="0.9"/>
<text x="323.20" y="728.50" font-size="6.0" font-weight="bold" stroke="#000" stroke-width="0.22" text-anchor="end" transform="rotate(-45 323.2 728.5)" fill="#000">Rb1</text>
<line x1="339.40" y1="653.64" x2="339.40" y2="654.30" stroke="#000" stroke-width="0.7"/>
<line x1="338.40" y1="653.64" x2="340.40" y2="653.64" stroke="#000" stroke-width="0.7"/>
<rect x="337.85" y="654.30" width="3.30" height="66.00" fill="#fff" stroke="#111" stroke-width="0.7"/>
<line x1="344.50" y1="653.64" x2="344.50" y2="654.30" stroke="#000" stroke-width="0.7"/>
<line x1="343.50" y1="653.64" x2="345.50" y2="653.64" stroke="#000" stroke-width="0.7"/>
<rect x="342.95" y="654.30" width="3.30" height="66.00" fill="#8c8c8c" stroke="#111" stroke-width="0.7"/>
<line x1="349.90" y1="666.84" x2="349.90" y2="668.16" stroke="#000" stroke-width="0.7"/>
<line x1="348.90" y1="666.84" x2="350.90" y2="666.84" stroke="#000" stroke-width="0.7"/>
<rect x="348.35" y="668.16" width="3.30" height="52.14" fill="#2a2a2a" stroke="#111" stroke-width="0.7"/>
<line x1="355.00" y1="669.48" x2="355.00" y2="670.80" stroke="#000" stroke-width="0.7"/>
<line x1="354.00" y1="669.48" x2="356.00" y2="669.48" stroke="#000" stroke-width="0.7"/>
<rect x="353.45" y="670.80" width="3.30" height="49.50" fill="#000" stroke="#111" stroke-width="0.7"/>
<line x1="347.10" y1="720.30" x2="347.10" y2="722.80" stroke="#000" stroke-width="0.9"/>
<text x="348.60" y="728.50" font-size="6.0" font-weight="bold" stroke="#000" stroke-width="0.22" text-anchor="end" transform="rotate(-45 348.59999999999997 728.5)" fill="#000">SPTA1</text>
<line x1="364.80" y1="652.32" x2="364.80" y2="654.30" stroke="#000" stroke-width="0.7"/>
<line x1="363.80" y1="652.32" x2="365.80" y2="652.32" stroke="#000" stroke-width="0.7"/>
<rect x="363.25" y="654.30" width="3.30" height="66.00" fill="#fff" stroke="#111" stroke-width="0.7"/>
<line x1="369.90" y1="647.04" x2="369.90" y2="654.30" stroke="#000" stroke-width="0.7"/>
<line x1="368.90" y1="647.04" x2="370.90" y2="647.04" stroke="#000" stroke-width="0.7"/>
<rect x="368.35" y="654.30" width="3.30" height="66.00" fill="#8c8c8c" stroke="#111" stroke-width="0.7"/>
<line x1="375.30" y1="623.28" x2="375.30" y2="625.92" stroke="#000" stroke-width="0.7"/>
<line x1="374.30" y1="623.28" x2="376.30" y2="623.28" stroke="#000" stroke-width="0.7"/>
<rect x="373.75" y="625.92" width="3.30" height="94.38" fill="#2a2a2a" stroke="#111" stroke-width="0.7"/>
<line x1="380.40" y1="640.44" x2="380.40" y2="644.40" stroke="#000" stroke-width="0.7"/>
<line x1="379.40" y1="640.44" x2="381.40" y2="640.44" stroke="#000" stroke-width="0.7"/>
<rect x="378.85" y="644.40" width="3.30" height="75.90" fill="#000" stroke="#111" stroke-width="0.7"/>
<line x1="372.50" y1="720.30" x2="372.50" y2="722.80" stroke="#000" stroke-width="0.9"/>
<text x="374.00" y="728.50" font-size="6.0" font-weight="bold" stroke="#000" stroke-width="0.22" text-anchor="end" transform="rotate(-45 374.0 728.5)" fill="#000">UROS</text>
<line x1="181.70" y1="720.30" x2="384.60" y2="720.30" stroke="#000" stroke-width="1.1"/>
<text x="281.50" y="756.20" font-size="6.5" font-weight="bold" stroke="#000" stroke-width="0.22" text-anchor="middle" fill="#000">Gene</text>
<rect x="394.00" y="619.50" width="9.80" height="5.20" fill="#fff" stroke="#111" stroke-width="0.7"/>
<text x="408.20" y="624.30" font-size="6.3" font-weight="bold" stroke="#000" stroke-width="0.22" text-anchor="start" fill="#000">0</text>
<rect x="394.00" y="628.50" width="9.80" height="5.20" fill="#8c8c8c" stroke="#111" stroke-width="0.7"/>
<text x="408.20" y="633.30" font-size="6.3" font-weight="bold" stroke="#000" stroke-width="0.22" text-anchor="start" fill="#000">tBHQ</text>
<rect x="394.00" y="637.70" width="9.80" height="5.20" fill="#2a2a2a" stroke="#111" stroke-width="0.7"/>
<text x="408.20" y="642.50" font-size="6.3" font-weight="bold" stroke="#000" stroke-width="0.22" text-anchor="start" fill="#000">statin</text>
<rect x="394.00" y="647.20" width="9.80" height="5.20" fill="#000" stroke="#111" stroke-width="0.7"/>
<text x="408.20" y="652.00" font-size="6.3" font-weight="bold" stroke="#000" stroke-width="0.22" text-anchor="start" fill="#000">statin + tBHQ</text>
</svg>
</body></html>
